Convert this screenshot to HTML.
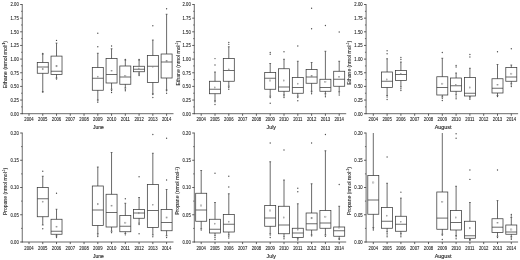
<!DOCTYPE html>
<html><head><meta charset="utf-8"><title>Ethane and propane box plots</title>
<style>
html,body{margin:0;padding:0;background:#fff;}
body{width:520px;height:260px;overflow:hidden;}
svg{display:block;font-family:"Liberation Sans",sans-serif;}
</style></head><body>
<svg width="520" height="260" viewBox="0 0 520 260">
<rect width="520" height="260" fill="#fff"/>
<g>
<line x1="22.25" y1="4.10" x2="22.25" y2="114.15" stroke="#3a3a3a" stroke-width="0.75"/>
<line x1="21.80" y1="113.70" x2="173.50" y2="113.70" stroke="#3a3a3a" stroke-width="0.75"/>
<line x1="20.15" y1="4.50" x2="22.25" y2="4.50" stroke="#3a3a3a" stroke-width="0.8"/>
<line x1="21.09" y1="11.32" x2="22.25" y2="11.32" stroke="#3a3a3a" stroke-width="0.7"/>
<line x1="20.15" y1="18.15" x2="22.25" y2="18.15" stroke="#3a3a3a" stroke-width="0.8"/>
<line x1="21.09" y1="24.97" x2="22.25" y2="24.97" stroke="#3a3a3a" stroke-width="0.7"/>
<line x1="20.15" y1="31.80" x2="22.25" y2="31.80" stroke="#3a3a3a" stroke-width="0.8"/>
<line x1="21.09" y1="38.62" x2="22.25" y2="38.62" stroke="#3a3a3a" stroke-width="0.7"/>
<line x1="20.15" y1="45.45" x2="22.25" y2="45.45" stroke="#3a3a3a" stroke-width="0.8"/>
<line x1="21.09" y1="52.28" x2="22.25" y2="52.28" stroke="#3a3a3a" stroke-width="0.7"/>
<line x1="20.15" y1="59.10" x2="22.25" y2="59.10" stroke="#3a3a3a" stroke-width="0.8"/>
<line x1="21.09" y1="65.92" x2="22.25" y2="65.92" stroke="#3a3a3a" stroke-width="0.7"/>
<line x1="20.15" y1="72.75" x2="22.25" y2="72.75" stroke="#3a3a3a" stroke-width="0.8"/>
<line x1="21.09" y1="79.58" x2="22.25" y2="79.58" stroke="#3a3a3a" stroke-width="0.7"/>
<line x1="20.15" y1="86.40" x2="22.25" y2="86.40" stroke="#3a3a3a" stroke-width="0.8"/>
<line x1="21.09" y1="93.23" x2="22.25" y2="93.23" stroke="#3a3a3a" stroke-width="0.7"/>
<line x1="20.15" y1="100.05" x2="22.25" y2="100.05" stroke="#3a3a3a" stroke-width="0.8"/>
<line x1="21.09" y1="106.88" x2="22.25" y2="106.88" stroke="#3a3a3a" stroke-width="0.7"/>
<line x1="20.15" y1="113.70" x2="22.25" y2="113.70" stroke="#3a3a3a" stroke-width="0.8"/>
<line x1="29.00" y1="113.70" x2="29.00" y2="115.80" stroke="#3a3a3a" stroke-width="0.8"/>
<line x1="42.76" y1="113.70" x2="42.76" y2="115.80" stroke="#3a3a3a" stroke-width="0.8"/>
<line x1="56.52" y1="113.70" x2="56.52" y2="115.80" stroke="#3a3a3a" stroke-width="0.8"/>
<line x1="70.28" y1="113.70" x2="70.28" y2="115.80" stroke="#3a3a3a" stroke-width="0.8"/>
<line x1="84.04" y1="113.70" x2="84.04" y2="115.80" stroke="#3a3a3a" stroke-width="0.8"/>
<line x1="97.80" y1="113.70" x2="97.80" y2="115.80" stroke="#3a3a3a" stroke-width="0.8"/>
<line x1="111.56" y1="113.70" x2="111.56" y2="115.80" stroke="#3a3a3a" stroke-width="0.8"/>
<line x1="125.32" y1="113.70" x2="125.32" y2="115.80" stroke="#3a3a3a" stroke-width="0.8"/>
<line x1="139.08" y1="113.70" x2="139.08" y2="115.80" stroke="#3a3a3a" stroke-width="0.8"/>
<line x1="152.84" y1="113.70" x2="152.84" y2="115.80" stroke="#3a3a3a" stroke-width="0.8"/>
<line x1="166.60" y1="113.70" x2="166.60" y2="115.80" stroke="#3a3a3a" stroke-width="0.8"/>
<rect x="37.26" y="62.50" width="11.00" height="10.75" fill="none" stroke="#3a3a3a" stroke-width="0.75"/>
<line x1="37.26" y1="67.00" x2="48.26" y2="67.00" stroke="#3a3a3a" stroke-width="0.75"/>
<line x1="42.76" y1="54.00" x2="42.76" y2="62.50" stroke="#3a3a3a" stroke-width="0.75"/>
<line x1="42.76" y1="73.25" x2="42.76" y2="91.80" stroke="#3a3a3a" stroke-width="0.75"/>
<line x1="41.86" y1="54.00" x2="43.66" y2="54.00" stroke="#3a3a3a" stroke-width="0.7"/>
<line x1="41.86" y1="91.80" x2="43.66" y2="91.80" stroke="#3a3a3a" stroke-width="0.7"/>
<rect x="42.16" y="68.65" width="1.2" height="1.2" fill="none" stroke="#888" stroke-width="0.4"/>
<circle cx="42.76" cy="53.50" r="0.65" fill="#4a4a4a"/>
<circle cx="42.76" cy="92.00" r="0.65" fill="#4a4a4a"/>
<rect x="51.02" y="56.10" width="11.00" height="18.40" fill="none" stroke="#3a3a3a" stroke-width="0.75"/>
<line x1="51.02" y1="71.25" x2="62.02" y2="71.25" stroke="#3a3a3a" stroke-width="0.75"/>
<line x1="56.52" y1="43.10" x2="56.52" y2="56.10" stroke="#3a3a3a" stroke-width="0.75"/>
<line x1="56.52" y1="74.50" x2="56.52" y2="78.00" stroke="#3a3a3a" stroke-width="0.75"/>
<line x1="55.62" y1="43.10" x2="57.42" y2="43.10" stroke="#3a3a3a" stroke-width="0.7"/>
<line x1="55.62" y1="78.00" x2="57.42" y2="78.00" stroke="#3a3a3a" stroke-width="0.7"/>
<rect x="55.92" y="65.65" width="1.2" height="1.2" fill="none" stroke="#888" stroke-width="0.4"/>
<circle cx="56.52" cy="40.40" r="0.65" fill="#4a4a4a"/>
<circle cx="56.52" cy="79.00" r="0.65" fill="#4a4a4a"/>
<rect x="92.30" y="67.50" width="11.00" height="22.75" fill="none" stroke="#3a3a3a" stroke-width="0.75"/>
<line x1="92.30" y1="78.25" x2="103.30" y2="78.25" stroke="#3a3a3a" stroke-width="0.75"/>
<line x1="97.80" y1="53.25" x2="97.80" y2="67.50" stroke="#3a3a3a" stroke-width="0.75"/>
<line x1="97.80" y1="90.25" x2="97.80" y2="100.00" stroke="#3a3a3a" stroke-width="0.75"/>
<line x1="96.90" y1="53.25" x2="98.70" y2="53.25" stroke="#3a3a3a" stroke-width="0.7"/>
<line x1="96.90" y1="100.00" x2="98.70" y2="100.00" stroke="#3a3a3a" stroke-width="0.7"/>
<rect x="97.20" y="76.15" width="1.2" height="1.2" fill="none" stroke="#888" stroke-width="0.4"/>
<circle cx="97.80" cy="46.75" r="0.65" fill="#4a4a4a"/>
<circle cx="97.80" cy="33.25" r="0.65" fill="#4a4a4a"/>
<circle cx="97.80" cy="100.90" r="0.65" fill="#4a4a4a"/>
<circle cx="97.80" cy="102.30" r="0.65" fill="#4a4a4a"/>
<rect x="106.06" y="58.50" width="11.00" height="24.50" fill="none" stroke="#3a3a3a" stroke-width="0.75"/>
<line x1="106.06" y1="74.50" x2="117.06" y2="74.50" stroke="#3a3a3a" stroke-width="0.75"/>
<line x1="111.56" y1="48.75" x2="111.56" y2="58.50" stroke="#3a3a3a" stroke-width="0.75"/>
<line x1="111.56" y1="83.00" x2="111.56" y2="89.25" stroke="#3a3a3a" stroke-width="0.75"/>
<line x1="110.66" y1="48.75" x2="112.46" y2="48.75" stroke="#3a3a3a" stroke-width="0.7"/>
<line x1="110.66" y1="89.25" x2="112.46" y2="89.25" stroke="#3a3a3a" stroke-width="0.7"/>
<rect x="110.96" y="70.40" width="1.2" height="1.2" fill="none" stroke="#888" stroke-width="0.4"/>
<circle cx="111.56" cy="46.00" r="0.65" fill="#4a4a4a"/>
<circle cx="111.56" cy="90.50" r="0.65" fill="#4a4a4a"/>
<circle cx="111.56" cy="92.50" r="0.65" fill="#4a4a4a"/>
<rect x="119.82" y="66.00" width="11.00" height="18.25" fill="none" stroke="#3a3a3a" stroke-width="0.75"/>
<line x1="119.82" y1="77.00" x2="130.82" y2="77.00" stroke="#3a3a3a" stroke-width="0.75"/>
<line x1="125.32" y1="60.00" x2="125.32" y2="66.00" stroke="#3a3a3a" stroke-width="0.75"/>
<line x1="125.32" y1="84.25" x2="125.32" y2="88.00" stroke="#3a3a3a" stroke-width="0.75"/>
<line x1="124.42" y1="60.00" x2="126.22" y2="60.00" stroke="#3a3a3a" stroke-width="0.7"/>
<line x1="124.42" y1="88.00" x2="126.22" y2="88.00" stroke="#3a3a3a" stroke-width="0.7"/>
<rect x="124.72" y="75.30" width="1.2" height="1.2" fill="none" stroke="#888" stroke-width="0.4"/>
<circle cx="125.32" cy="59.40" r="0.65" fill="#4a4a4a"/>
<circle cx="125.32" cy="89.25" r="0.65" fill="#4a4a4a"/>
<circle cx="125.32" cy="90.75" r="0.65" fill="#4a4a4a"/>
<rect x="133.58" y="66.25" width="11.00" height="5.50" fill="none" stroke="#3a3a3a" stroke-width="0.75"/>
<line x1="133.58" y1="69.25" x2="144.58" y2="69.25" stroke="#3a3a3a" stroke-width="0.75"/>
<line x1="139.08" y1="60.00" x2="139.08" y2="66.25" stroke="#3a3a3a" stroke-width="0.75"/>
<line x1="139.08" y1="71.75" x2="139.08" y2="73.25" stroke="#3a3a3a" stroke-width="0.75"/>
<line x1="138.18" y1="60.00" x2="139.98" y2="60.00" stroke="#3a3a3a" stroke-width="0.7"/>
<line x1="138.18" y1="73.25" x2="139.98" y2="73.25" stroke="#3a3a3a" stroke-width="0.7"/>
<rect x="138.48" y="68.00" width="1.2" height="1.2" fill="none" stroke="#888" stroke-width="0.4"/>
<circle cx="139.08" cy="59.40" r="0.65" fill="#4a4a4a"/>
<circle cx="139.08" cy="74.50" r="0.65" fill="#4a4a4a"/>
<circle cx="139.08" cy="75.50" r="0.65" fill="#4a4a4a"/>
<rect x="147.34" y="55.50" width="11.00" height="27.00" fill="none" stroke="#3a3a3a" stroke-width="0.75"/>
<line x1="147.34" y1="66.25" x2="158.34" y2="66.25" stroke="#3a3a3a" stroke-width="0.75"/>
<line x1="152.84" y1="40.00" x2="152.84" y2="55.50" stroke="#3a3a3a" stroke-width="0.75"/>
<line x1="152.84" y1="82.50" x2="152.84" y2="93.75" stroke="#3a3a3a" stroke-width="0.75"/>
<line x1="151.94" y1="40.00" x2="153.74" y2="40.00" stroke="#3a3a3a" stroke-width="0.7"/>
<line x1="151.94" y1="93.75" x2="153.74" y2="93.75" stroke="#3a3a3a" stroke-width="0.7"/>
<rect x="152.24" y="66.40" width="1.2" height="1.2" fill="none" stroke="#888" stroke-width="0.4"/>
<circle cx="152.84" cy="25.75" r="0.65" fill="#4a4a4a"/>
<circle cx="152.84" cy="94.50" r="0.65" fill="#4a4a4a"/>
<circle cx="152.84" cy="97.50" r="0.65" fill="#4a4a4a"/>
<rect x="161.10" y="54.00" width="11.00" height="24.00" fill="none" stroke="#3a3a3a" stroke-width="0.75"/>
<line x1="161.10" y1="62.00" x2="172.10" y2="62.00" stroke="#3a3a3a" stroke-width="0.75"/>
<line x1="166.60" y1="14.25" x2="166.60" y2="54.00" stroke="#3a3a3a" stroke-width="0.75"/>
<line x1="166.60" y1="78.00" x2="166.60" y2="90.00" stroke="#3a3a3a" stroke-width="0.75"/>
<line x1="165.70" y1="14.25" x2="167.50" y2="14.25" stroke="#3a3a3a" stroke-width="0.7"/>
<line x1="165.70" y1="90.00" x2="167.50" y2="90.00" stroke="#3a3a3a" stroke-width="0.7"/>
<rect x="166.00" y="60.65" width="1.2" height="1.2" fill="none" stroke="#888" stroke-width="0.4"/>
<circle cx="166.60" cy="8.75" r="0.65" fill="#4a4a4a"/>
<circle cx="166.60" cy="90.75" r="0.65" fill="#4a4a4a"/>
<circle cx="166.60" cy="93.25" r="0.65" fill="#4a4a4a"/>
<line x1="194.30" y1="4.10" x2="194.30" y2="114.15" stroke="#3a3a3a" stroke-width="0.75"/>
<line x1="193.85" y1="113.70" x2="346.20" y2="113.70" stroke="#3a3a3a" stroke-width="0.75"/>
<line x1="192.20" y1="4.50" x2="194.30" y2="4.50" stroke="#3a3a3a" stroke-width="0.8"/>
<line x1="193.15" y1="11.32" x2="194.30" y2="11.32" stroke="#3a3a3a" stroke-width="0.7"/>
<line x1="192.20" y1="18.15" x2="194.30" y2="18.15" stroke="#3a3a3a" stroke-width="0.8"/>
<line x1="193.15" y1="24.97" x2="194.30" y2="24.97" stroke="#3a3a3a" stroke-width="0.7"/>
<line x1="192.20" y1="31.80" x2="194.30" y2="31.80" stroke="#3a3a3a" stroke-width="0.8"/>
<line x1="193.15" y1="38.62" x2="194.30" y2="38.62" stroke="#3a3a3a" stroke-width="0.7"/>
<line x1="192.20" y1="45.45" x2="194.30" y2="45.45" stroke="#3a3a3a" stroke-width="0.8"/>
<line x1="193.15" y1="52.28" x2="194.30" y2="52.28" stroke="#3a3a3a" stroke-width="0.7"/>
<line x1="192.20" y1="59.10" x2="194.30" y2="59.10" stroke="#3a3a3a" stroke-width="0.8"/>
<line x1="193.15" y1="65.92" x2="194.30" y2="65.92" stroke="#3a3a3a" stroke-width="0.7"/>
<line x1="192.20" y1="72.75" x2="194.30" y2="72.75" stroke="#3a3a3a" stroke-width="0.8"/>
<line x1="193.15" y1="79.58" x2="194.30" y2="79.58" stroke="#3a3a3a" stroke-width="0.7"/>
<line x1="192.20" y1="86.40" x2="194.30" y2="86.40" stroke="#3a3a3a" stroke-width="0.8"/>
<line x1="193.15" y1="93.23" x2="194.30" y2="93.23" stroke="#3a3a3a" stroke-width="0.7"/>
<line x1="192.20" y1="100.05" x2="194.30" y2="100.05" stroke="#3a3a3a" stroke-width="0.8"/>
<line x1="193.15" y1="106.88" x2="194.30" y2="106.88" stroke="#3a3a3a" stroke-width="0.7"/>
<line x1="192.20" y1="113.70" x2="194.30" y2="113.70" stroke="#3a3a3a" stroke-width="0.8"/>
<line x1="201.20" y1="113.70" x2="201.20" y2="115.80" stroke="#3a3a3a" stroke-width="0.8"/>
<line x1="215.00" y1="113.70" x2="215.00" y2="115.80" stroke="#3a3a3a" stroke-width="0.8"/>
<line x1="228.80" y1="113.70" x2="228.80" y2="115.80" stroke="#3a3a3a" stroke-width="0.8"/>
<line x1="242.60" y1="113.70" x2="242.60" y2="115.80" stroke="#3a3a3a" stroke-width="0.8"/>
<line x1="256.40" y1="113.70" x2="256.40" y2="115.80" stroke="#3a3a3a" stroke-width="0.8"/>
<line x1="270.20" y1="113.70" x2="270.20" y2="115.80" stroke="#3a3a3a" stroke-width="0.8"/>
<line x1="284.00" y1="113.70" x2="284.00" y2="115.80" stroke="#3a3a3a" stroke-width="0.8"/>
<line x1="297.80" y1="113.70" x2="297.80" y2="115.80" stroke="#3a3a3a" stroke-width="0.8"/>
<line x1="311.60" y1="113.70" x2="311.60" y2="115.80" stroke="#3a3a3a" stroke-width="0.8"/>
<line x1="325.40" y1="113.70" x2="325.40" y2="115.80" stroke="#3a3a3a" stroke-width="0.8"/>
<line x1="339.20" y1="113.70" x2="339.20" y2="115.80" stroke="#3a3a3a" stroke-width="0.8"/>
<rect x="209.50" y="81.25" width="11.00" height="12.50" fill="none" stroke="#3a3a3a" stroke-width="0.75"/>
<line x1="209.50" y1="89.25" x2="220.50" y2="89.25" stroke="#3a3a3a" stroke-width="0.75"/>
<line x1="215.00" y1="72.00" x2="215.00" y2="81.25" stroke="#3a3a3a" stroke-width="0.75"/>
<line x1="215.00" y1="93.75" x2="215.00" y2="100.75" stroke="#3a3a3a" stroke-width="0.75"/>
<line x1="214.10" y1="72.00" x2="215.90" y2="72.00" stroke="#3a3a3a" stroke-width="0.7"/>
<line x1="214.10" y1="100.75" x2="215.90" y2="100.75" stroke="#3a3a3a" stroke-width="0.7"/>
<rect x="214.40" y="86.90" width="1.2" height="1.2" fill="none" stroke="#888" stroke-width="0.4"/>
<circle cx="215.00" cy="65.00" r="0.65" fill="#4a4a4a"/>
<circle cx="215.00" cy="58.60" r="0.65" fill="#4a4a4a"/>
<circle cx="215.00" cy="101.75" r="0.65" fill="#4a4a4a"/>
<circle cx="215.00" cy="104.50" r="0.65" fill="#4a4a4a"/>
<rect x="223.30" y="58.50" width="11.00" height="22.75" fill="none" stroke="#3a3a3a" stroke-width="0.75"/>
<line x1="223.30" y1="70.50" x2="234.30" y2="70.50" stroke="#3a3a3a" stroke-width="0.75"/>
<line x1="228.80" y1="46.75" x2="228.80" y2="58.50" stroke="#3a3a3a" stroke-width="0.75"/>
<line x1="228.80" y1="81.25" x2="228.80" y2="86.25" stroke="#3a3a3a" stroke-width="0.75"/>
<line x1="227.90" y1="46.75" x2="229.70" y2="46.75" stroke="#3a3a3a" stroke-width="0.7"/>
<line x1="227.90" y1="86.25" x2="229.70" y2="86.25" stroke="#3a3a3a" stroke-width="0.7"/>
<rect x="228.20" y="68.90" width="1.2" height="1.2" fill="none" stroke="#888" stroke-width="0.4"/>
<circle cx="228.80" cy="42.50" r="0.65" fill="#4a4a4a"/>
<circle cx="228.80" cy="44.30" r="0.65" fill="#4a4a4a"/>
<circle cx="228.80" cy="87.50" r="0.65" fill="#4a4a4a"/>
<circle cx="228.80" cy="89.25" r="0.65" fill="#4a4a4a"/>
<rect x="264.70" y="72.50" width="11.00" height="16.75" fill="none" stroke="#3a3a3a" stroke-width="0.75"/>
<line x1="264.70" y1="78.25" x2="275.70" y2="78.25" stroke="#3a3a3a" stroke-width="0.75"/>
<line x1="270.20" y1="63.50" x2="270.20" y2="72.50" stroke="#3a3a3a" stroke-width="0.75"/>
<line x1="270.20" y1="89.25" x2="270.20" y2="96.25" stroke="#3a3a3a" stroke-width="0.75"/>
<line x1="269.30" y1="63.50" x2="271.10" y2="63.50" stroke="#3a3a3a" stroke-width="0.7"/>
<line x1="269.30" y1="96.25" x2="271.10" y2="96.25" stroke="#3a3a3a" stroke-width="0.7"/>
<rect x="269.60" y="79.90" width="1.2" height="1.2" fill="none" stroke="#888" stroke-width="0.4"/>
<circle cx="270.20" cy="52.50" r="0.65" fill="#4a4a4a"/>
<circle cx="270.20" cy="54.25" r="0.65" fill="#4a4a4a"/>
<circle cx="270.20" cy="97.50" r="0.65" fill="#4a4a4a"/>
<circle cx="270.20" cy="103.25" r="0.65" fill="#4a4a4a"/>
<rect x="278.50" y="68.75" width="11.00" height="22.50" fill="none" stroke="#3a3a3a" stroke-width="0.75"/>
<line x1="278.50" y1="87.00" x2="289.50" y2="87.00" stroke="#3a3a3a" stroke-width="0.75"/>
<line x1="284.00" y1="59.25" x2="284.00" y2="68.75" stroke="#3a3a3a" stroke-width="0.75"/>
<line x1="284.00" y1="91.25" x2="284.00" y2="95.00" stroke="#3a3a3a" stroke-width="0.75"/>
<line x1="283.10" y1="59.25" x2="284.90" y2="59.25" stroke="#3a3a3a" stroke-width="0.7"/>
<line x1="283.10" y1="95.00" x2="284.90" y2="95.00" stroke="#3a3a3a" stroke-width="0.7"/>
<rect x="283.40" y="79.90" width="1.2" height="1.2" fill="none" stroke="#888" stroke-width="0.4"/>
<circle cx="284.00" cy="51.75" r="0.65" fill="#4a4a4a"/>
<circle cx="284.00" cy="96.00" r="0.65" fill="#4a4a4a"/>
<circle cx="284.00" cy="97.50" r="0.65" fill="#4a4a4a"/>
<rect x="292.30" y="77.50" width="11.00" height="15.75" fill="none" stroke="#3a3a3a" stroke-width="0.75"/>
<line x1="292.30" y1="87.50" x2="303.30" y2="87.50" stroke="#3a3a3a" stroke-width="0.75"/>
<line x1="297.80" y1="61.25" x2="297.80" y2="77.50" stroke="#3a3a3a" stroke-width="0.75"/>
<line x1="297.80" y1="93.25" x2="297.80" y2="96.25" stroke="#3a3a3a" stroke-width="0.75"/>
<line x1="296.90" y1="61.25" x2="298.70" y2="61.25" stroke="#3a3a3a" stroke-width="0.7"/>
<line x1="296.90" y1="96.25" x2="298.70" y2="96.25" stroke="#3a3a3a" stroke-width="0.7"/>
<rect x="297.20" y="83.15" width="1.2" height="1.2" fill="none" stroke="#888" stroke-width="0.4"/>
<circle cx="297.80" cy="46.00" r="0.65" fill="#4a4a4a"/>
<circle cx="297.80" cy="97.50" r="0.65" fill="#4a4a4a"/>
<circle cx="297.80" cy="100.75" r="0.65" fill="#4a4a4a"/>
<rect x="306.10" y="69.50" width="11.00" height="13.75" fill="none" stroke="#3a3a3a" stroke-width="0.75"/>
<line x1="306.10" y1="77.00" x2="317.10" y2="77.00" stroke="#3a3a3a" stroke-width="0.75"/>
<line x1="311.60" y1="62.50" x2="311.60" y2="69.50" stroke="#3a3a3a" stroke-width="0.75"/>
<line x1="311.60" y1="83.25" x2="311.60" y2="91.25" stroke="#3a3a3a" stroke-width="0.75"/>
<line x1="310.70" y1="62.50" x2="312.50" y2="62.50" stroke="#3a3a3a" stroke-width="0.7"/>
<line x1="310.70" y1="91.25" x2="312.50" y2="91.25" stroke="#3a3a3a" stroke-width="0.7"/>
<rect x="311.00" y="75.65" width="1.2" height="1.2" fill="none" stroke="#888" stroke-width="0.4"/>
<circle cx="311.60" cy="28.75" r="0.65" fill="#4a4a4a"/>
<circle cx="311.60" cy="8.25" r="0.65" fill="#4a4a4a"/>
<circle cx="311.60" cy="92.00" r="0.65" fill="#4a4a4a"/>
<circle cx="311.60" cy="93.75" r="0.65" fill="#4a4a4a"/>
<rect x="319.90" y="79.25" width="11.00" height="12.00" fill="none" stroke="#3a3a3a" stroke-width="0.75"/>
<line x1="319.90" y1="87.50" x2="330.90" y2="87.50" stroke="#3a3a3a" stroke-width="0.75"/>
<line x1="325.40" y1="51.25" x2="325.40" y2="79.25" stroke="#3a3a3a" stroke-width="0.75"/>
<line x1="325.40" y1="91.25" x2="325.40" y2="93.75" stroke="#3a3a3a" stroke-width="0.75"/>
<line x1="324.50" y1="51.25" x2="326.30" y2="51.25" stroke="#3a3a3a" stroke-width="0.7"/>
<line x1="324.50" y1="93.75" x2="326.30" y2="93.75" stroke="#3a3a3a" stroke-width="0.7"/>
<rect x="324.80" y="81.40" width="1.2" height="1.2" fill="none" stroke="#888" stroke-width="0.4"/>
<circle cx="325.40" cy="25.50" r="0.65" fill="#4a4a4a"/>
<circle cx="325.40" cy="95.00" r="0.65" fill="#4a4a4a"/>
<circle cx="325.40" cy="96.75" r="0.65" fill="#4a4a4a"/>
<rect x="333.70" y="71.25" width="11.00" height="15.00" fill="none" stroke="#3a3a3a" stroke-width="0.75"/>
<line x1="333.70" y1="79.25" x2="344.70" y2="79.25" stroke="#3a3a3a" stroke-width="0.75"/>
<line x1="339.20" y1="61.25" x2="339.20" y2="71.25" stroke="#3a3a3a" stroke-width="0.75"/>
<line x1="339.20" y1="86.25" x2="339.20" y2="91.75" stroke="#3a3a3a" stroke-width="0.75"/>
<line x1="338.30" y1="61.25" x2="340.10" y2="61.25" stroke="#3a3a3a" stroke-width="0.7"/>
<line x1="338.30" y1="91.75" x2="340.10" y2="91.75" stroke="#3a3a3a" stroke-width="0.7"/>
<rect x="338.60" y="76.40" width="1.2" height="1.2" fill="none" stroke="#888" stroke-width="0.4"/>
<circle cx="339.20" cy="32.00" r="0.65" fill="#4a4a4a"/>
<circle cx="339.20" cy="93.00" r="0.65" fill="#4a4a4a"/>
<circle cx="339.20" cy="95.00" r="0.65" fill="#4a4a4a"/>
<line x1="366.10" y1="4.10" x2="366.10" y2="114.15" stroke="#3a3a3a" stroke-width="0.75"/>
<line x1="365.65" y1="113.70" x2="518.10" y2="113.70" stroke="#3a3a3a" stroke-width="0.75"/>
<line x1="364.00" y1="4.50" x2="366.10" y2="4.50" stroke="#3a3a3a" stroke-width="0.8"/>
<line x1="364.95" y1="11.32" x2="366.10" y2="11.32" stroke="#3a3a3a" stroke-width="0.7"/>
<line x1="364.00" y1="18.15" x2="366.10" y2="18.15" stroke="#3a3a3a" stroke-width="0.8"/>
<line x1="364.95" y1="24.97" x2="366.10" y2="24.97" stroke="#3a3a3a" stroke-width="0.7"/>
<line x1="364.00" y1="31.80" x2="366.10" y2="31.80" stroke="#3a3a3a" stroke-width="0.8"/>
<line x1="364.95" y1="38.62" x2="366.10" y2="38.62" stroke="#3a3a3a" stroke-width="0.7"/>
<line x1="364.00" y1="45.45" x2="366.10" y2="45.45" stroke="#3a3a3a" stroke-width="0.8"/>
<line x1="364.95" y1="52.28" x2="366.10" y2="52.28" stroke="#3a3a3a" stroke-width="0.7"/>
<line x1="364.00" y1="59.10" x2="366.10" y2="59.10" stroke="#3a3a3a" stroke-width="0.8"/>
<line x1="364.95" y1="65.92" x2="366.10" y2="65.92" stroke="#3a3a3a" stroke-width="0.7"/>
<line x1="364.00" y1="72.75" x2="366.10" y2="72.75" stroke="#3a3a3a" stroke-width="0.8"/>
<line x1="364.95" y1="79.58" x2="366.10" y2="79.58" stroke="#3a3a3a" stroke-width="0.7"/>
<line x1="364.00" y1="86.40" x2="366.10" y2="86.40" stroke="#3a3a3a" stroke-width="0.8"/>
<line x1="364.95" y1="93.23" x2="366.10" y2="93.23" stroke="#3a3a3a" stroke-width="0.7"/>
<line x1="364.00" y1="100.05" x2="366.10" y2="100.05" stroke="#3a3a3a" stroke-width="0.8"/>
<line x1="364.95" y1="106.88" x2="366.10" y2="106.88" stroke="#3a3a3a" stroke-width="0.7"/>
<line x1="364.00" y1="113.70" x2="366.10" y2="113.70" stroke="#3a3a3a" stroke-width="0.8"/>
<line x1="373.30" y1="113.70" x2="373.30" y2="115.80" stroke="#3a3a3a" stroke-width="0.8"/>
<line x1="387.10" y1="113.70" x2="387.10" y2="115.80" stroke="#3a3a3a" stroke-width="0.8"/>
<line x1="400.90" y1="113.70" x2="400.90" y2="115.80" stroke="#3a3a3a" stroke-width="0.8"/>
<line x1="414.70" y1="113.70" x2="414.70" y2="115.80" stroke="#3a3a3a" stroke-width="0.8"/>
<line x1="428.50" y1="113.70" x2="428.50" y2="115.80" stroke="#3a3a3a" stroke-width="0.8"/>
<line x1="442.30" y1="113.70" x2="442.30" y2="115.80" stroke="#3a3a3a" stroke-width="0.8"/>
<line x1="456.10" y1="113.70" x2="456.10" y2="115.80" stroke="#3a3a3a" stroke-width="0.8"/>
<line x1="469.90" y1="113.70" x2="469.90" y2="115.80" stroke="#3a3a3a" stroke-width="0.8"/>
<line x1="483.70" y1="113.70" x2="483.70" y2="115.80" stroke="#3a3a3a" stroke-width="0.8"/>
<line x1="497.50" y1="113.70" x2="497.50" y2="115.80" stroke="#3a3a3a" stroke-width="0.8"/>
<line x1="511.30" y1="113.70" x2="511.30" y2="115.80" stroke="#3a3a3a" stroke-width="0.8"/>
<rect x="381.60" y="72.00" width="11.00" height="15.50" fill="none" stroke="#3a3a3a" stroke-width="0.75"/>
<line x1="381.60" y1="81.25" x2="392.60" y2="81.25" stroke="#3a3a3a" stroke-width="0.75"/>
<line x1="387.10" y1="58.75" x2="387.10" y2="72.00" stroke="#3a3a3a" stroke-width="0.75"/>
<line x1="387.10" y1="87.50" x2="387.10" y2="95.50" stroke="#3a3a3a" stroke-width="0.75"/>
<line x1="386.20" y1="58.75" x2="388.00" y2="58.75" stroke="#3a3a3a" stroke-width="0.7"/>
<line x1="386.20" y1="95.50" x2="388.00" y2="95.50" stroke="#3a3a3a" stroke-width="0.7"/>
<rect x="386.50" y="78.90" width="1.2" height="1.2" fill="none" stroke="#888" stroke-width="0.4"/>
<circle cx="387.10" cy="53.75" r="0.65" fill="#4a4a4a"/>
<circle cx="387.10" cy="50.75" r="0.65" fill="#4a4a4a"/>
<circle cx="387.10" cy="97.00" r="0.65" fill="#4a4a4a"/>
<circle cx="387.10" cy="99.50" r="0.65" fill="#4a4a4a"/>
<rect x="395.40" y="70.50" width="11.00" height="10.00" fill="none" stroke="#3a3a3a" stroke-width="0.75"/>
<line x1="395.40" y1="74.50" x2="406.40" y2="74.50" stroke="#3a3a3a" stroke-width="0.75"/>
<line x1="400.90" y1="62.00" x2="400.90" y2="70.50" stroke="#3a3a3a" stroke-width="0.75"/>
<line x1="400.90" y1="80.50" x2="400.90" y2="87.00" stroke="#3a3a3a" stroke-width="0.75"/>
<line x1="400.00" y1="62.00" x2="401.80" y2="62.00" stroke="#3a3a3a" stroke-width="0.7"/>
<line x1="400.00" y1="87.00" x2="401.80" y2="87.00" stroke="#3a3a3a" stroke-width="0.7"/>
<rect x="400.30" y="73.15" width="1.2" height="1.2" fill="none" stroke="#888" stroke-width="0.4"/>
<circle cx="400.90" cy="59.50" r="0.65" fill="#4a4a4a"/>
<circle cx="400.90" cy="57.50" r="0.65" fill="#4a4a4a"/>
<circle cx="400.90" cy="88.75" r="0.65" fill="#4a4a4a"/>
<circle cx="400.90" cy="90.50" r="0.65" fill="#4a4a4a"/>
<rect x="436.80" y="76.75" width="11.00" height="18.25" fill="none" stroke="#3a3a3a" stroke-width="0.75"/>
<line x1="436.80" y1="87.50" x2="447.80" y2="87.50" stroke="#3a3a3a" stroke-width="0.75"/>
<line x1="442.30" y1="58.25" x2="442.30" y2="76.75" stroke="#3a3a3a" stroke-width="0.75"/>
<line x1="442.30" y1="95.00" x2="442.30" y2="97.00" stroke="#3a3a3a" stroke-width="0.75"/>
<line x1="441.40" y1="58.25" x2="443.20" y2="58.25" stroke="#3a3a3a" stroke-width="0.7"/>
<line x1="441.40" y1="97.00" x2="443.20" y2="97.00" stroke="#3a3a3a" stroke-width="0.7"/>
<rect x="441.70" y="83.15" width="1.2" height="1.2" fill="none" stroke="#888" stroke-width="0.4"/>
<circle cx="442.30" cy="52.50" r="0.65" fill="#4a4a4a"/>
<circle cx="442.30" cy="98.25" r="0.65" fill="#4a4a4a"/>
<circle cx="442.30" cy="100.50" r="0.65" fill="#4a4a4a"/>
<rect x="450.60" y="78.00" width="11.00" height="13.25" fill="none" stroke="#3a3a3a" stroke-width="0.75"/>
<line x1="450.60" y1="85.75" x2="461.60" y2="85.75" stroke="#3a3a3a" stroke-width="0.75"/>
<line x1="456.10" y1="73.00" x2="456.10" y2="78.00" stroke="#3a3a3a" stroke-width="0.75"/>
<line x1="456.10" y1="91.25" x2="456.10" y2="95.00" stroke="#3a3a3a" stroke-width="0.75"/>
<line x1="455.20" y1="73.00" x2="457.00" y2="73.00" stroke="#3a3a3a" stroke-width="0.7"/>
<line x1="455.20" y1="95.00" x2="457.00" y2="95.00" stroke="#3a3a3a" stroke-width="0.7"/>
<rect x="455.50" y="84.40" width="1.2" height="1.2" fill="none" stroke="#888" stroke-width="0.4"/>
<circle cx="456.10" cy="67.00" r="0.65" fill="#4a4a4a"/>
<circle cx="456.10" cy="65.50" r="0.65" fill="#4a4a4a"/>
<circle cx="456.10" cy="97.00" r="0.65" fill="#4a4a4a"/>
<circle cx="456.10" cy="98.75" r="0.65" fill="#4a4a4a"/>
<rect x="464.40" y="77.50" width="11.00" height="18.50" fill="none" stroke="#3a3a3a" stroke-width="0.75"/>
<line x1="464.40" y1="93.25" x2="475.40" y2="93.25" stroke="#3a3a3a" stroke-width="0.75"/>
<line x1="469.90" y1="68.25" x2="469.90" y2="77.50" stroke="#3a3a3a" stroke-width="0.75"/>
<line x1="469.90" y1="96.00" x2="469.90" y2="97.00" stroke="#3a3a3a" stroke-width="0.75"/>
<line x1="469.00" y1="68.25" x2="470.80" y2="68.25" stroke="#3a3a3a" stroke-width="0.7"/>
<line x1="469.00" y1="97.00" x2="470.80" y2="97.00" stroke="#3a3a3a" stroke-width="0.7"/>
<rect x="469.30" y="86.90" width="1.2" height="1.2" fill="none" stroke="#888" stroke-width="0.4"/>
<circle cx="469.90" cy="57.00" r="0.65" fill="#4a4a4a"/>
<circle cx="469.90" cy="54.50" r="0.65" fill="#4a4a4a"/>
<circle cx="469.90" cy="98.00" r="0.65" fill="#4a4a4a"/>
<circle cx="469.90" cy="99.25" r="0.65" fill="#4a4a4a"/>
<rect x="492.00" y="78.75" width="11.00" height="14.25" fill="none" stroke="#3a3a3a" stroke-width="0.75"/>
<line x1="492.00" y1="88.25" x2="503.00" y2="88.25" stroke="#3a3a3a" stroke-width="0.75"/>
<line x1="497.50" y1="64.50" x2="497.50" y2="78.75" stroke="#3a3a3a" stroke-width="0.75"/>
<line x1="497.50" y1="93.00" x2="497.50" y2="95.50" stroke="#3a3a3a" stroke-width="0.75"/>
<line x1="496.60" y1="64.50" x2="498.40" y2="64.50" stroke="#3a3a3a" stroke-width="0.7"/>
<line x1="496.60" y1="95.50" x2="498.40" y2="95.50" stroke="#3a3a3a" stroke-width="0.7"/>
<rect x="496.90" y="84.40" width="1.2" height="1.2" fill="none" stroke="#888" stroke-width="0.4"/>
<circle cx="497.50" cy="51.75" r="0.65" fill="#4a4a4a"/>
<circle cx="497.50" cy="96.50" r="0.65" fill="#4a4a4a"/>
<rect x="505.80" y="67.50" width="11.00" height="13.75" fill="none" stroke="#3a3a3a" stroke-width="0.75"/>
<line x1="505.80" y1="77.00" x2="516.80" y2="77.00" stroke="#3a3a3a" stroke-width="0.75"/>
<line x1="511.30" y1="65.00" x2="511.30" y2="67.50" stroke="#3a3a3a" stroke-width="0.75"/>
<line x1="511.30" y1="81.25" x2="511.30" y2="83.75" stroke="#3a3a3a" stroke-width="0.75"/>
<line x1="510.40" y1="65.00" x2="512.20" y2="65.00" stroke="#3a3a3a" stroke-width="0.7"/>
<line x1="510.40" y1="83.75" x2="512.20" y2="83.75" stroke="#3a3a3a" stroke-width="0.7"/>
<rect x="510.70" y="73.15" width="1.2" height="1.2" fill="none" stroke="#888" stroke-width="0.4"/>
<circle cx="511.30" cy="48.75" r="0.65" fill="#4a4a4a"/>
<circle cx="511.30" cy="85.00" r="0.65" fill="#4a4a4a"/>
<circle cx="511.30" cy="86.50" r="0.65" fill="#4a4a4a"/>
<line x1="22.25" y1="132.60" x2="22.25" y2="242.45" stroke="#3a3a3a" stroke-width="0.75"/>
<line x1="21.80" y1="242.00" x2="173.50" y2="242.00" stroke="#3a3a3a" stroke-width="0.75"/>
<line x1="20.15" y1="133.00" x2="22.25" y2="133.00" stroke="#3a3a3a" stroke-width="0.8"/>
<line x1="21.09" y1="146.62" x2="22.25" y2="146.62" stroke="#3a3a3a" stroke-width="0.7"/>
<line x1="20.15" y1="160.25" x2="22.25" y2="160.25" stroke="#3a3a3a" stroke-width="0.8"/>
<line x1="21.09" y1="173.88" x2="22.25" y2="173.88" stroke="#3a3a3a" stroke-width="0.7"/>
<line x1="20.15" y1="187.50" x2="22.25" y2="187.50" stroke="#3a3a3a" stroke-width="0.8"/>
<line x1="21.09" y1="201.12" x2="22.25" y2="201.12" stroke="#3a3a3a" stroke-width="0.7"/>
<line x1="20.15" y1="214.75" x2="22.25" y2="214.75" stroke="#3a3a3a" stroke-width="0.8"/>
<line x1="21.09" y1="228.38" x2="22.25" y2="228.38" stroke="#3a3a3a" stroke-width="0.7"/>
<line x1="20.15" y1="242.00" x2="22.25" y2="242.00" stroke="#3a3a3a" stroke-width="0.8"/>
<line x1="29.00" y1="242.00" x2="29.00" y2="244.10" stroke="#3a3a3a" stroke-width="0.8"/>
<line x1="42.76" y1="242.00" x2="42.76" y2="244.10" stroke="#3a3a3a" stroke-width="0.8"/>
<line x1="56.52" y1="242.00" x2="56.52" y2="244.10" stroke="#3a3a3a" stroke-width="0.8"/>
<line x1="70.28" y1="242.00" x2="70.28" y2="244.10" stroke="#3a3a3a" stroke-width="0.8"/>
<line x1="84.04" y1="242.00" x2="84.04" y2="244.10" stroke="#3a3a3a" stroke-width="0.8"/>
<line x1="97.80" y1="242.00" x2="97.80" y2="244.10" stroke="#3a3a3a" stroke-width="0.8"/>
<line x1="111.56" y1="242.00" x2="111.56" y2="244.10" stroke="#3a3a3a" stroke-width="0.8"/>
<line x1="125.32" y1="242.00" x2="125.32" y2="244.10" stroke="#3a3a3a" stroke-width="0.8"/>
<line x1="139.08" y1="242.00" x2="139.08" y2="244.10" stroke="#3a3a3a" stroke-width="0.8"/>
<line x1="152.84" y1="242.00" x2="152.84" y2="244.10" stroke="#3a3a3a" stroke-width="0.8"/>
<line x1="166.60" y1="242.00" x2="166.60" y2="244.10" stroke="#3a3a3a" stroke-width="0.8"/>
<rect x="37.26" y="187.50" width="11.00" height="29.25" fill="none" stroke="#3a3a3a" stroke-width="0.75"/>
<line x1="37.26" y1="198.75" x2="48.26" y2="198.75" stroke="#3a3a3a" stroke-width="0.75"/>
<line x1="42.76" y1="176.25" x2="42.76" y2="187.50" stroke="#3a3a3a" stroke-width="0.75"/>
<line x1="42.76" y1="216.75" x2="42.76" y2="225.00" stroke="#3a3a3a" stroke-width="0.75"/>
<line x1="41.86" y1="176.25" x2="43.66" y2="176.25" stroke="#3a3a3a" stroke-width="0.7"/>
<line x1="41.86" y1="225.00" x2="43.66" y2="225.00" stroke="#3a3a3a" stroke-width="0.7"/>
<rect x="42.16" y="201.15" width="1.2" height="1.2" fill="none" stroke="#888" stroke-width="0.4"/>
<circle cx="42.76" cy="171.25" r="0.65" fill="#4a4a4a"/>
<circle cx="42.76" cy="228.75" r="0.65" fill="#4a4a4a"/>
<rect x="51.02" y="219.25" width="11.00" height="15.00" fill="none" stroke="#3a3a3a" stroke-width="0.75"/>
<line x1="51.02" y1="231.25" x2="62.02" y2="231.25" stroke="#3a3a3a" stroke-width="0.75"/>
<line x1="56.52" y1="209.25" x2="56.52" y2="219.25" stroke="#3a3a3a" stroke-width="0.75"/>
<line x1="56.52" y1="234.25" x2="56.52" y2="235.75" stroke="#3a3a3a" stroke-width="0.75"/>
<line x1="55.62" y1="209.25" x2="57.42" y2="209.25" stroke="#3a3a3a" stroke-width="0.7"/>
<line x1="55.62" y1="235.75" x2="57.42" y2="235.75" stroke="#3a3a3a" stroke-width="0.7"/>
<rect x="55.92" y="226.15" width="1.2" height="1.2" fill="none" stroke="#888" stroke-width="0.4"/>
<circle cx="56.52" cy="193.25" r="0.65" fill="#4a4a4a"/>
<circle cx="56.52" cy="236.75" r="0.65" fill="#4a4a4a"/>
<circle cx="56.52" cy="237.60" r="0.65" fill="#4a4a4a"/>
<rect x="92.30" y="186.00" width="11.00" height="39.50" fill="none" stroke="#3a3a3a" stroke-width="0.75"/>
<line x1="92.30" y1="210.00" x2="103.30" y2="210.00" stroke="#3a3a3a" stroke-width="0.75"/>
<line x1="97.80" y1="167.00" x2="97.80" y2="186.00" stroke="#3a3a3a" stroke-width="0.75"/>
<line x1="97.80" y1="225.50" x2="97.80" y2="233.75" stroke="#3a3a3a" stroke-width="0.75"/>
<line x1="96.90" y1="167.00" x2="98.70" y2="167.00" stroke="#3a3a3a" stroke-width="0.7"/>
<line x1="96.90" y1="233.75" x2="98.70" y2="233.75" stroke="#3a3a3a" stroke-width="0.7"/>
<rect x="97.20" y="203.65" width="1.2" height="1.2" fill="none" stroke="#888" stroke-width="0.4"/>
<circle cx="97.80" cy="235.00" r="0.65" fill="#4a4a4a"/>
<circle cx="97.80" cy="236.50" r="0.65" fill="#4a4a4a"/>
<rect x="106.06" y="194.25" width="11.00" height="32.75" fill="none" stroke="#3a3a3a" stroke-width="0.75"/>
<line x1="106.06" y1="212.50" x2="117.06" y2="212.50" stroke="#3a3a3a" stroke-width="0.75"/>
<line x1="111.56" y1="152.50" x2="111.56" y2="194.25" stroke="#3a3a3a" stroke-width="0.75"/>
<line x1="111.56" y1="227.00" x2="111.56" y2="231.25" stroke="#3a3a3a" stroke-width="0.75"/>
<line x1="110.66" y1="152.50" x2="112.46" y2="152.50" stroke="#3a3a3a" stroke-width="0.7"/>
<line x1="110.66" y1="231.25" x2="112.46" y2="231.25" stroke="#3a3a3a" stroke-width="0.7"/>
<rect x="110.96" y="205.15" width="1.2" height="1.2" fill="none" stroke="#888" stroke-width="0.4"/>
<circle cx="111.56" cy="232.70" r="0.65" fill="#4a4a4a"/>
<rect x="119.82" y="215.50" width="11.00" height="16.25" fill="none" stroke="#3a3a3a" stroke-width="0.75"/>
<line x1="119.82" y1="226.25" x2="130.82" y2="226.25" stroke="#3a3a3a" stroke-width="0.75"/>
<line x1="125.32" y1="203.25" x2="125.32" y2="215.50" stroke="#3a3a3a" stroke-width="0.75"/>
<line x1="125.32" y1="231.75" x2="125.32" y2="233.50" stroke="#3a3a3a" stroke-width="0.75"/>
<line x1="124.42" y1="203.25" x2="126.22" y2="203.25" stroke="#3a3a3a" stroke-width="0.7"/>
<line x1="124.42" y1="233.50" x2="126.22" y2="233.50" stroke="#3a3a3a" stroke-width="0.7"/>
<rect x="124.72" y="222.15" width="1.2" height="1.2" fill="none" stroke="#888" stroke-width="0.4"/>
<circle cx="125.32" cy="198.75" r="0.65" fill="#4a4a4a"/>
<circle cx="125.32" cy="234.80" r="0.65" fill="#4a4a4a"/>
<rect x="133.58" y="209.50" width="11.00" height="8.75" fill="none" stroke="#3a3a3a" stroke-width="0.75"/>
<line x1="133.58" y1="213.00" x2="144.58" y2="213.00" stroke="#3a3a3a" stroke-width="0.75"/>
<line x1="139.08" y1="197.50" x2="139.08" y2="209.50" stroke="#3a3a3a" stroke-width="0.75"/>
<line x1="139.08" y1="218.25" x2="139.08" y2="223.25" stroke="#3a3a3a" stroke-width="0.75"/>
<line x1="138.18" y1="197.50" x2="139.98" y2="197.50" stroke="#3a3a3a" stroke-width="0.7"/>
<line x1="138.18" y1="223.25" x2="139.98" y2="223.25" stroke="#3a3a3a" stroke-width="0.7"/>
<rect x="138.48" y="212.65" width="1.2" height="1.2" fill="none" stroke="#888" stroke-width="0.4"/>
<circle cx="139.08" cy="176.75" r="0.65" fill="#4a4a4a"/>
<circle cx="139.08" cy="224.50" r="0.65" fill="#4a4a4a"/>
<circle cx="139.08" cy="233.75" r="0.65" fill="#4a4a4a"/>
<rect x="147.34" y="184.50" width="11.00" height="43.00" fill="none" stroke="#3a3a3a" stroke-width="0.75"/>
<line x1="147.34" y1="210.50" x2="158.34" y2="210.50" stroke="#3a3a3a" stroke-width="0.75"/>
<line x1="152.84" y1="153.25" x2="152.84" y2="184.50" stroke="#3a3a3a" stroke-width="0.75"/>
<line x1="152.84" y1="227.50" x2="152.84" y2="235.00" stroke="#3a3a3a" stroke-width="0.75"/>
<line x1="151.94" y1="153.25" x2="153.74" y2="153.25" stroke="#3a3a3a" stroke-width="0.7"/>
<line x1="151.94" y1="235.00" x2="153.74" y2="235.00" stroke="#3a3a3a" stroke-width="0.7"/>
<rect x="152.24" y="204.40" width="1.2" height="1.2" fill="none" stroke="#888" stroke-width="0.4"/>
<circle cx="152.84" cy="134.50" r="0.65" fill="#4a4a4a"/>
<circle cx="152.84" cy="236.75" r="0.65" fill="#4a4a4a"/>
<rect x="161.10" y="209.50" width="11.00" height="21.25" fill="none" stroke="#3a3a3a" stroke-width="0.75"/>
<line x1="161.10" y1="222.50" x2="172.10" y2="222.50" stroke="#3a3a3a" stroke-width="0.75"/>
<line x1="166.60" y1="189.50" x2="166.60" y2="209.50" stroke="#3a3a3a" stroke-width="0.75"/>
<line x1="166.60" y1="230.75" x2="166.60" y2="235.75" stroke="#3a3a3a" stroke-width="0.75"/>
<line x1="165.70" y1="189.50" x2="167.50" y2="189.50" stroke="#3a3a3a" stroke-width="0.7"/>
<line x1="165.70" y1="235.75" x2="167.50" y2="235.75" stroke="#3a3a3a" stroke-width="0.7"/>
<rect x="166.00" y="216.90" width="1.2" height="1.2" fill="none" stroke="#888" stroke-width="0.4"/>
<circle cx="166.60" cy="180.00" r="0.65" fill="#4a4a4a"/>
<circle cx="166.60" cy="138.25" r="0.65" fill="#4a4a4a"/>
<circle cx="166.60" cy="237.50" r="0.65" fill="#4a4a4a"/>
<line x1="194.30" y1="132.60" x2="194.30" y2="242.45" stroke="#3a3a3a" stroke-width="0.75"/>
<line x1="193.85" y1="242.00" x2="346.20" y2="242.00" stroke="#3a3a3a" stroke-width="0.75"/>
<line x1="192.20" y1="133.00" x2="194.30" y2="133.00" stroke="#3a3a3a" stroke-width="0.8"/>
<line x1="193.15" y1="146.62" x2="194.30" y2="146.62" stroke="#3a3a3a" stroke-width="0.7"/>
<line x1="192.20" y1="160.25" x2="194.30" y2="160.25" stroke="#3a3a3a" stroke-width="0.8"/>
<line x1="193.15" y1="173.88" x2="194.30" y2="173.88" stroke="#3a3a3a" stroke-width="0.7"/>
<line x1="192.20" y1="187.50" x2="194.30" y2="187.50" stroke="#3a3a3a" stroke-width="0.8"/>
<line x1="193.15" y1="201.12" x2="194.30" y2="201.12" stroke="#3a3a3a" stroke-width="0.7"/>
<line x1="192.20" y1="214.75" x2="194.30" y2="214.75" stroke="#3a3a3a" stroke-width="0.8"/>
<line x1="193.15" y1="228.38" x2="194.30" y2="228.38" stroke="#3a3a3a" stroke-width="0.7"/>
<line x1="192.20" y1="242.00" x2="194.30" y2="242.00" stroke="#3a3a3a" stroke-width="0.8"/>
<line x1="201.20" y1="242.00" x2="201.20" y2="244.10" stroke="#3a3a3a" stroke-width="0.8"/>
<line x1="215.00" y1="242.00" x2="215.00" y2="244.10" stroke="#3a3a3a" stroke-width="0.8"/>
<line x1="228.80" y1="242.00" x2="228.80" y2="244.10" stroke="#3a3a3a" stroke-width="0.8"/>
<line x1="242.60" y1="242.00" x2="242.60" y2="244.10" stroke="#3a3a3a" stroke-width="0.8"/>
<line x1="256.40" y1="242.00" x2="256.40" y2="244.10" stroke="#3a3a3a" stroke-width="0.8"/>
<line x1="270.20" y1="242.00" x2="270.20" y2="244.10" stroke="#3a3a3a" stroke-width="0.8"/>
<line x1="284.00" y1="242.00" x2="284.00" y2="244.10" stroke="#3a3a3a" stroke-width="0.8"/>
<line x1="297.80" y1="242.00" x2="297.80" y2="244.10" stroke="#3a3a3a" stroke-width="0.8"/>
<line x1="311.60" y1="242.00" x2="311.60" y2="244.10" stroke="#3a3a3a" stroke-width="0.8"/>
<line x1="325.40" y1="242.00" x2="325.40" y2="244.10" stroke="#3a3a3a" stroke-width="0.8"/>
<line x1="339.20" y1="242.00" x2="339.20" y2="244.10" stroke="#3a3a3a" stroke-width="0.8"/>
<rect x="195.70" y="193.25" width="11.00" height="28.00" fill="none" stroke="#3a3a3a" stroke-width="0.75"/>
<line x1="195.70" y1="210.00" x2="206.70" y2="210.00" stroke="#3a3a3a" stroke-width="0.75"/>
<line x1="201.20" y1="170.50" x2="201.20" y2="193.25" stroke="#3a3a3a" stroke-width="0.75"/>
<line x1="201.20" y1="221.25" x2="201.20" y2="228.75" stroke="#3a3a3a" stroke-width="0.75"/>
<line x1="200.30" y1="170.50" x2="202.10" y2="170.50" stroke="#3a3a3a" stroke-width="0.7"/>
<line x1="200.30" y1="228.75" x2="202.10" y2="228.75" stroke="#3a3a3a" stroke-width="0.7"/>
<rect x="200.60" y="204.90" width="1.2" height="1.2" fill="none" stroke="#888" stroke-width="0.4"/>
<circle cx="201.20" cy="230.00" r="0.65" fill="#4a4a4a"/>
<rect x="209.50" y="219.25" width="11.00" height="13.75" fill="none" stroke="#3a3a3a" stroke-width="0.75"/>
<line x1="209.50" y1="229.25" x2="220.50" y2="229.25" stroke="#3a3a3a" stroke-width="0.75"/>
<line x1="215.00" y1="202.50" x2="215.00" y2="219.25" stroke="#3a3a3a" stroke-width="0.75"/>
<line x1="215.00" y1="233.00" x2="215.00" y2="235.75" stroke="#3a3a3a" stroke-width="0.75"/>
<line x1="214.10" y1="202.50" x2="215.90" y2="202.50" stroke="#3a3a3a" stroke-width="0.7"/>
<line x1="214.10" y1="235.75" x2="215.90" y2="235.75" stroke="#3a3a3a" stroke-width="0.7"/>
<rect x="214.40" y="223.15" width="1.2" height="1.2" fill="none" stroke="#888" stroke-width="0.4"/>
<circle cx="215.00" cy="173.25" r="0.65" fill="#4a4a4a"/>
<circle cx="215.00" cy="237.50" r="0.65" fill="#4a4a4a"/>
<circle cx="215.00" cy="239.50" r="0.65" fill="#4a4a4a"/>
<rect x="223.30" y="214.50" width="11.00" height="17.50" fill="none" stroke="#3a3a3a" stroke-width="0.75"/>
<line x1="223.30" y1="224.25" x2="234.30" y2="224.25" stroke="#3a3a3a" stroke-width="0.75"/>
<line x1="228.80" y1="193.75" x2="228.80" y2="214.50" stroke="#3a3a3a" stroke-width="0.75"/>
<line x1="228.80" y1="232.00" x2="228.80" y2="235.00" stroke="#3a3a3a" stroke-width="0.75"/>
<line x1="227.90" y1="193.75" x2="229.70" y2="193.75" stroke="#3a3a3a" stroke-width="0.7"/>
<line x1="227.90" y1="235.00" x2="229.70" y2="235.00" stroke="#3a3a3a" stroke-width="0.7"/>
<rect x="228.20" y="221.15" width="1.2" height="1.2" fill="none" stroke="#888" stroke-width="0.4"/>
<circle cx="228.80" cy="176.25" r="0.65" fill="#4a4a4a"/>
<circle cx="228.80" cy="187.00" r="0.65" fill="#4a4a4a"/>
<circle cx="228.80" cy="236.25" r="0.65" fill="#4a4a4a"/>
<circle cx="228.80" cy="238.00" r="0.65" fill="#4a4a4a"/>
<rect x="264.70" y="205.50" width="11.00" height="20.75" fill="none" stroke="#3a3a3a" stroke-width="0.75"/>
<line x1="264.70" y1="218.00" x2="275.70" y2="218.00" stroke="#3a3a3a" stroke-width="0.75"/>
<line x1="270.20" y1="161.75" x2="270.20" y2="205.50" stroke="#3a3a3a" stroke-width="0.75"/>
<line x1="270.20" y1="226.25" x2="270.20" y2="233.75" stroke="#3a3a3a" stroke-width="0.75"/>
<line x1="269.30" y1="161.75" x2="271.10" y2="161.75" stroke="#3a3a3a" stroke-width="0.7"/>
<line x1="269.30" y1="233.75" x2="271.10" y2="233.75" stroke="#3a3a3a" stroke-width="0.7"/>
<rect x="269.60" y="209.90" width="1.2" height="1.2" fill="none" stroke="#888" stroke-width="0.4"/>
<circle cx="270.20" cy="143.00" r="0.65" fill="#4a4a4a"/>
<circle cx="270.20" cy="235.00" r="0.65" fill="#4a4a4a"/>
<circle cx="270.20" cy="237.50" r="0.65" fill="#4a4a4a"/>
<rect x="278.50" y="206.25" width="11.00" height="27.50" fill="none" stroke="#3a3a3a" stroke-width="0.75"/>
<line x1="278.50" y1="225.00" x2="289.50" y2="225.00" stroke="#3a3a3a" stroke-width="0.75"/>
<line x1="284.00" y1="180.00" x2="284.00" y2="206.25" stroke="#3a3a3a" stroke-width="0.75"/>
<line x1="284.00" y1="233.75" x2="284.00" y2="237.00" stroke="#3a3a3a" stroke-width="0.75"/>
<line x1="283.10" y1="180.00" x2="284.90" y2="180.00" stroke="#3a3a3a" stroke-width="0.7"/>
<line x1="283.10" y1="237.00" x2="284.90" y2="237.00" stroke="#3a3a3a" stroke-width="0.7"/>
<rect x="283.40" y="216.90" width="1.2" height="1.2" fill="none" stroke="#888" stroke-width="0.4"/>
<circle cx="284.00" cy="150.00" r="0.65" fill="#4a4a4a"/>
<circle cx="284.00" cy="238.75" r="0.65" fill="#4a4a4a"/>
<rect x="292.30" y="228.25" width="11.00" height="9.25" fill="none" stroke="#3a3a3a" stroke-width="0.75"/>
<line x1="292.30" y1="233.00" x2="303.30" y2="233.00" stroke="#3a3a3a" stroke-width="0.75"/>
<line x1="297.80" y1="203.75" x2="297.80" y2="228.25" stroke="#3a3a3a" stroke-width="0.75"/>
<line x1="297.80" y1="237.50" x2="297.80" y2="238.75" stroke="#3a3a3a" stroke-width="0.75"/>
<line x1="296.90" y1="203.75" x2="298.70" y2="203.75" stroke="#3a3a3a" stroke-width="0.7"/>
<line x1="296.90" y1="238.75" x2="298.70" y2="238.75" stroke="#3a3a3a" stroke-width="0.7"/>
<rect x="297.20" y="229.40" width="1.2" height="1.2" fill="none" stroke="#888" stroke-width="0.4"/>
<circle cx="297.80" cy="188.25" r="0.65" fill="#4a4a4a"/>
<circle cx="297.80" cy="191.75" r="0.65" fill="#4a4a4a"/>
<circle cx="297.80" cy="240.00" r="0.65" fill="#4a4a4a"/>
<rect x="306.10" y="213.00" width="11.00" height="17.00" fill="none" stroke="#3a3a3a" stroke-width="0.75"/>
<line x1="306.10" y1="223.75" x2="317.10" y2="223.75" stroke="#3a3a3a" stroke-width="0.75"/>
<line x1="311.60" y1="183.75" x2="311.60" y2="213.00" stroke="#3a3a3a" stroke-width="0.75"/>
<line x1="311.60" y1="230.00" x2="311.60" y2="235.00" stroke="#3a3a3a" stroke-width="0.75"/>
<line x1="310.70" y1="183.75" x2="312.50" y2="183.75" stroke="#3a3a3a" stroke-width="0.7"/>
<line x1="310.70" y1="235.00" x2="312.50" y2="235.00" stroke="#3a3a3a" stroke-width="0.7"/>
<rect x="311.00" y="217.65" width="1.2" height="1.2" fill="none" stroke="#888" stroke-width="0.4"/>
<circle cx="311.60" cy="143.00" r="0.65" fill="#4a4a4a"/>
<circle cx="311.60" cy="235.90" r="0.65" fill="#4a4a4a"/>
<rect x="319.90" y="210.50" width="11.00" height="17.75" fill="none" stroke="#3a3a3a" stroke-width="0.75"/>
<line x1="319.90" y1="223.00" x2="330.90" y2="223.00" stroke="#3a3a3a" stroke-width="0.75"/>
<line x1="325.40" y1="150.75" x2="325.40" y2="210.50" stroke="#3a3a3a" stroke-width="0.75"/>
<line x1="325.40" y1="228.25" x2="325.40" y2="235.00" stroke="#3a3a3a" stroke-width="0.75"/>
<line x1="324.50" y1="150.75" x2="326.30" y2="150.75" stroke="#3a3a3a" stroke-width="0.7"/>
<line x1="324.50" y1="235.00" x2="326.30" y2="235.00" stroke="#3a3a3a" stroke-width="0.7"/>
<rect x="324.80" y="216.15" width="1.2" height="1.2" fill="none" stroke="#888" stroke-width="0.4"/>
<circle cx="325.40" cy="134.50" r="0.65" fill="#4a4a4a"/>
<circle cx="325.40" cy="236.25" r="0.65" fill="#4a4a4a"/>
<rect x="333.70" y="227.00" width="11.00" height="9.25" fill="none" stroke="#3a3a3a" stroke-width="0.75"/>
<line x1="333.70" y1="230.75" x2="344.70" y2="230.75" stroke="#3a3a3a" stroke-width="0.75"/>
<line x1="339.20" y1="206.25" x2="339.20" y2="227.00" stroke="#3a3a3a" stroke-width="0.75"/>
<line x1="339.20" y1="236.25" x2="339.20" y2="238.75" stroke="#3a3a3a" stroke-width="0.75"/>
<line x1="338.30" y1="206.25" x2="340.10" y2="206.25" stroke="#3a3a3a" stroke-width="0.7"/>
<line x1="338.30" y1="238.75" x2="340.10" y2="238.75" stroke="#3a3a3a" stroke-width="0.7"/>
<rect x="338.60" y="226.90" width="1.2" height="1.2" fill="none" stroke="#888" stroke-width="0.4"/>
<circle cx="339.20" cy="184.50" r="0.65" fill="#4a4a4a"/>
<circle cx="339.20" cy="239.50" r="0.65" fill="#4a4a4a"/>
<line x1="366.10" y1="132.60" x2="366.10" y2="242.45" stroke="#3a3a3a" stroke-width="0.75"/>
<line x1="365.65" y1="242.00" x2="518.10" y2="242.00" stroke="#3a3a3a" stroke-width="0.75"/>
<line x1="364.00" y1="133.00" x2="366.10" y2="133.00" stroke="#3a3a3a" stroke-width="0.8"/>
<line x1="364.95" y1="146.62" x2="366.10" y2="146.62" stroke="#3a3a3a" stroke-width="0.7"/>
<line x1="364.00" y1="160.25" x2="366.10" y2="160.25" stroke="#3a3a3a" stroke-width="0.8"/>
<line x1="364.95" y1="173.88" x2="366.10" y2="173.88" stroke="#3a3a3a" stroke-width="0.7"/>
<line x1="364.00" y1="187.50" x2="366.10" y2="187.50" stroke="#3a3a3a" stroke-width="0.8"/>
<line x1="364.95" y1="201.12" x2="366.10" y2="201.12" stroke="#3a3a3a" stroke-width="0.7"/>
<line x1="364.00" y1="214.75" x2="366.10" y2="214.75" stroke="#3a3a3a" stroke-width="0.8"/>
<line x1="364.95" y1="228.38" x2="366.10" y2="228.38" stroke="#3a3a3a" stroke-width="0.7"/>
<line x1="364.00" y1="242.00" x2="366.10" y2="242.00" stroke="#3a3a3a" stroke-width="0.8"/>
<line x1="373.30" y1="242.00" x2="373.30" y2="244.10" stroke="#3a3a3a" stroke-width="0.8"/>
<line x1="387.10" y1="242.00" x2="387.10" y2="244.10" stroke="#3a3a3a" stroke-width="0.8"/>
<line x1="400.90" y1="242.00" x2="400.90" y2="244.10" stroke="#3a3a3a" stroke-width="0.8"/>
<line x1="414.70" y1="242.00" x2="414.70" y2="244.10" stroke="#3a3a3a" stroke-width="0.8"/>
<line x1="428.50" y1="242.00" x2="428.50" y2="244.10" stroke="#3a3a3a" stroke-width="0.8"/>
<line x1="442.30" y1="242.00" x2="442.30" y2="244.10" stroke="#3a3a3a" stroke-width="0.8"/>
<line x1="456.10" y1="242.00" x2="456.10" y2="244.10" stroke="#3a3a3a" stroke-width="0.8"/>
<line x1="469.90" y1="242.00" x2="469.90" y2="244.10" stroke="#3a3a3a" stroke-width="0.8"/>
<line x1="483.70" y1="242.00" x2="483.70" y2="244.10" stroke="#3a3a3a" stroke-width="0.8"/>
<line x1="497.50" y1="242.00" x2="497.50" y2="244.10" stroke="#3a3a3a" stroke-width="0.8"/>
<line x1="511.30" y1="242.00" x2="511.30" y2="244.10" stroke="#3a3a3a" stroke-width="0.8"/>
<rect x="367.80" y="175.50" width="11.00" height="38.75" fill="none" stroke="#3a3a3a" stroke-width="0.75"/>
<line x1="367.80" y1="200.00" x2="378.80" y2="200.00" stroke="#3a3a3a" stroke-width="0.75"/>
<line x1="373.30" y1="133.00" x2="373.30" y2="175.50" stroke="#3a3a3a" stroke-width="0.75"/>
<line x1="373.30" y1="214.25" x2="373.30" y2="227.50" stroke="#3a3a3a" stroke-width="0.75"/>
<line x1="372.40" y1="227.50" x2="374.20" y2="227.50" stroke="#3a3a3a" stroke-width="0.7"/>
<rect x="372.70" y="181.90" width="1.2" height="1.2" fill="none" stroke="#888" stroke-width="0.4"/>
<circle cx="373.30" cy="228.75" r="0.65" fill="#4a4a4a"/>
<circle cx="373.30" cy="230.00" r="0.65" fill="#4a4a4a"/>
<rect x="381.60" y="207.50" width="11.00" height="20.75" fill="none" stroke="#3a3a3a" stroke-width="0.75"/>
<line x1="381.60" y1="221.25" x2="392.60" y2="221.25" stroke="#3a3a3a" stroke-width="0.75"/>
<line x1="387.10" y1="183.25" x2="387.10" y2="207.50" stroke="#3a3a3a" stroke-width="0.75"/>
<line x1="387.10" y1="228.25" x2="387.10" y2="231.75" stroke="#3a3a3a" stroke-width="0.75"/>
<line x1="386.20" y1="183.25" x2="388.00" y2="183.25" stroke="#3a3a3a" stroke-width="0.7"/>
<line x1="386.20" y1="231.75" x2="388.00" y2="231.75" stroke="#3a3a3a" stroke-width="0.7"/>
<rect x="386.50" y="215.15" width="1.2" height="1.2" fill="none" stroke="#888" stroke-width="0.4"/>
<circle cx="387.10" cy="157.00" r="0.65" fill="#4a4a4a"/>
<circle cx="387.10" cy="233.25" r="0.65" fill="#4a4a4a"/>
<circle cx="387.10" cy="235.00" r="0.65" fill="#4a4a4a"/>
<circle cx="387.10" cy="236.75" r="0.65" fill="#4a4a4a"/>
<rect x="395.40" y="216.25" width="11.00" height="15.00" fill="none" stroke="#3a3a3a" stroke-width="0.75"/>
<line x1="395.40" y1="224.25" x2="406.40" y2="224.25" stroke="#3a3a3a" stroke-width="0.75"/>
<line x1="400.90" y1="198.10" x2="400.90" y2="216.25" stroke="#3a3a3a" stroke-width="0.75"/>
<line x1="400.90" y1="231.25" x2="400.90" y2="233.75" stroke="#3a3a3a" stroke-width="0.75"/>
<line x1="400.00" y1="198.10" x2="401.80" y2="198.10" stroke="#3a3a3a" stroke-width="0.7"/>
<line x1="400.00" y1="233.75" x2="401.80" y2="233.75" stroke="#3a3a3a" stroke-width="0.7"/>
<rect x="400.30" y="221.40" width="1.2" height="1.2" fill="none" stroke="#888" stroke-width="0.4"/>
<circle cx="400.90" cy="192.20" r="0.65" fill="#4a4a4a"/>
<circle cx="400.90" cy="235.00" r="0.65" fill="#4a4a4a"/>
<circle cx="400.90" cy="236.75" r="0.65" fill="#4a4a4a"/>
<rect x="436.80" y="192.00" width="11.00" height="37.25" fill="none" stroke="#3a3a3a" stroke-width="0.75"/>
<line x1="436.80" y1="218.10" x2="447.80" y2="218.10" stroke="#3a3a3a" stroke-width="0.75"/>
<line x1="442.30" y1="133.00" x2="442.30" y2="192.00" stroke="#3a3a3a" stroke-width="0.75"/>
<line x1="442.30" y1="229.25" x2="442.30" y2="234.25" stroke="#3a3a3a" stroke-width="0.75"/>
<line x1="441.40" y1="234.25" x2="443.20" y2="234.25" stroke="#3a3a3a" stroke-width="0.7"/>
<rect x="441.70" y="201.30" width="1.2" height="1.2" fill="none" stroke="#888" stroke-width="0.4"/>
<circle cx="442.30" cy="235.20" r="0.65" fill="#4a4a4a"/>
<circle cx="442.30" cy="239.50" r="0.65" fill="#4a4a4a"/>
<rect x="450.60" y="210.60" width="11.00" height="19.40" fill="none" stroke="#3a3a3a" stroke-width="0.75"/>
<line x1="450.60" y1="222.50" x2="461.60" y2="222.50" stroke="#3a3a3a" stroke-width="0.75"/>
<line x1="456.10" y1="186.25" x2="456.10" y2="210.60" stroke="#3a3a3a" stroke-width="0.75"/>
<line x1="456.10" y1="230.00" x2="456.10" y2="235.50" stroke="#3a3a3a" stroke-width="0.75"/>
<line x1="455.20" y1="186.25" x2="457.00" y2="186.25" stroke="#3a3a3a" stroke-width="0.7"/>
<line x1="455.20" y1="235.50" x2="457.00" y2="235.50" stroke="#3a3a3a" stroke-width="0.7"/>
<rect x="455.50" y="216.90" width="1.2" height="1.2" fill="none" stroke="#888" stroke-width="0.4"/>
<circle cx="456.10" cy="138.25" r="0.65" fill="#4a4a4a"/>
<circle cx="456.10" cy="133.75" r="0.65" fill="#4a4a4a"/>
<circle cx="456.10" cy="236.75" r="0.65" fill="#4a4a4a"/>
<circle cx="456.10" cy="238.75" r="0.65" fill="#4a4a4a"/>
<rect x="464.40" y="221.25" width="11.00" height="17.00" fill="none" stroke="#3a3a3a" stroke-width="0.75"/>
<line x1="464.40" y1="235.75" x2="475.40" y2="235.75" stroke="#3a3a3a" stroke-width="0.75"/>
<line x1="469.90" y1="202.50" x2="469.90" y2="221.25" stroke="#3a3a3a" stroke-width="0.75"/>
<line x1="469.90" y1="238.25" x2="469.90" y2="239.50" stroke="#3a3a3a" stroke-width="0.75"/>
<line x1="469.00" y1="202.50" x2="470.80" y2="202.50" stroke="#3a3a3a" stroke-width="0.7"/>
<line x1="469.00" y1="239.50" x2="470.80" y2="239.50" stroke="#3a3a3a" stroke-width="0.7"/>
<rect x="469.30" y="227.65" width="1.2" height="1.2" fill="none" stroke="#888" stroke-width="0.4"/>
<circle cx="469.90" cy="179.40" r="0.65" fill="#4a4a4a"/>
<circle cx="469.90" cy="170.00" r="0.65" fill="#4a4a4a"/>
<circle cx="469.90" cy="240.50" r="0.65" fill="#4a4a4a"/>
<rect x="492.00" y="218.75" width="11.00" height="13.75" fill="none" stroke="#3a3a3a" stroke-width="0.75"/>
<line x1="492.00" y1="227.20" x2="503.00" y2="227.20" stroke="#3a3a3a" stroke-width="0.75"/>
<line x1="497.50" y1="200.60" x2="497.50" y2="218.75" stroke="#3a3a3a" stroke-width="0.75"/>
<line x1="497.50" y1="232.50" x2="497.50" y2="236.25" stroke="#3a3a3a" stroke-width="0.75"/>
<line x1="496.60" y1="200.60" x2="498.40" y2="200.60" stroke="#3a3a3a" stroke-width="0.7"/>
<line x1="496.60" y1="236.25" x2="498.40" y2="236.25" stroke="#3a3a3a" stroke-width="0.7"/>
<rect x="496.90" y="222.40" width="1.2" height="1.2" fill="none" stroke="#888" stroke-width="0.4"/>
<circle cx="497.50" cy="170.00" r="0.65" fill="#4a4a4a"/>
<circle cx="497.50" cy="237.50" r="0.65" fill="#4a4a4a"/>
<rect x="505.80" y="225.00" width="11.00" height="9.25" fill="none" stroke="#3a3a3a" stroke-width="0.75"/>
<line x1="505.80" y1="232.00" x2="516.80" y2="232.00" stroke="#3a3a3a" stroke-width="0.75"/>
<line x1="511.30" y1="217.50" x2="511.30" y2="225.00" stroke="#3a3a3a" stroke-width="0.75"/>
<line x1="511.30" y1="234.25" x2="511.30" y2="236.75" stroke="#3a3a3a" stroke-width="0.75"/>
<line x1="510.40" y1="217.50" x2="512.20" y2="217.50" stroke="#3a3a3a" stroke-width="0.7"/>
<line x1="510.40" y1="236.75" x2="512.20" y2="236.75" stroke="#3a3a3a" stroke-width="0.7"/>
<rect x="510.70" y="228.90" width="1.2" height="1.2" fill="none" stroke="#888" stroke-width="0.4"/>
<circle cx="511.30" cy="216.00" r="0.65" fill="#4a4a4a"/>
<circle cx="511.30" cy="214.50" r="0.65" fill="#4a4a4a"/>
<circle cx="511.30" cy="238.00" r="0.65" fill="#4a4a4a"/>
<circle cx="511.30" cy="239.25" r="0.65" fill="#4a4a4a"/>
</g>
<g>
<text transform="translate(18.75,6.40) scale(0.94,1)" font-size="4.5" text-anchor="end" fill="#2a2a2a" stroke="#2a2a2a" stroke-width="0.1">2.00</text>
<text transform="translate(18.75,20.05) scale(0.94,1)" font-size="4.5" text-anchor="end" fill="#2a2a2a" stroke="#2a2a2a" stroke-width="0.1">1.75</text>
<text transform="translate(18.75,33.70) scale(0.94,1)" font-size="4.5" text-anchor="end" fill="#2a2a2a" stroke="#2a2a2a" stroke-width="0.1">1.50</text>
<text transform="translate(18.75,47.35) scale(0.94,1)" font-size="4.5" text-anchor="end" fill="#2a2a2a" stroke="#2a2a2a" stroke-width="0.1">1.25</text>
<text transform="translate(18.75,61.00) scale(0.94,1)" font-size="4.5" text-anchor="end" fill="#2a2a2a" stroke="#2a2a2a" stroke-width="0.1">1.00</text>
<text transform="translate(18.75,74.65) scale(0.94,1)" font-size="4.5" text-anchor="end" fill="#2a2a2a" stroke="#2a2a2a" stroke-width="0.1">0.75</text>
<text transform="translate(18.75,88.30) scale(0.94,1)" font-size="4.5" text-anchor="end" fill="#2a2a2a" stroke="#2a2a2a" stroke-width="0.1">0.50</text>
<text transform="translate(18.75,101.95) scale(0.94,1)" font-size="4.5" text-anchor="end" fill="#2a2a2a" stroke="#2a2a2a" stroke-width="0.1">0.25</text>
<text transform="translate(18.75,115.60) scale(0.94,1)" font-size="4.5" text-anchor="end" fill="#2a2a2a" stroke="#2a2a2a" stroke-width="0.1">0.00</text>
<text transform="translate(29.00,121.40) scale(0.94,1)" font-size="4.5" text-anchor="middle" fill="#2a2a2a" stroke="#2a2a2a" stroke-width="0.1">2004</text>
<text transform="translate(42.76,121.40) scale(0.94,1)" font-size="4.5" text-anchor="middle" fill="#2a2a2a" stroke="#2a2a2a" stroke-width="0.1">2005</text>
<text transform="translate(56.52,121.40) scale(0.94,1)" font-size="4.5" text-anchor="middle" fill="#2a2a2a" stroke="#2a2a2a" stroke-width="0.1">2006</text>
<text transform="translate(70.28,121.40) scale(0.94,1)" font-size="4.5" text-anchor="middle" fill="#2a2a2a" stroke="#2a2a2a" stroke-width="0.1">2007</text>
<text transform="translate(84.04,121.40) scale(0.94,1)" font-size="4.5" text-anchor="middle" fill="#2a2a2a" stroke="#2a2a2a" stroke-width="0.1">2008</text>
<text transform="translate(97.80,121.40) scale(0.94,1)" font-size="4.5" text-anchor="middle" fill="#2a2a2a" stroke="#2a2a2a" stroke-width="0.1">2009</text>
<text transform="translate(111.56,121.40) scale(0.94,1)" font-size="4.5" text-anchor="middle" fill="#2a2a2a" stroke="#2a2a2a" stroke-width="0.1">2010</text>
<text transform="translate(125.32,121.40) scale(0.94,1)" font-size="4.5" text-anchor="middle" fill="#2a2a2a" stroke="#2a2a2a" stroke-width="0.1">2011</text>
<text transform="translate(139.08,121.40) scale(0.94,1)" font-size="4.5" text-anchor="middle" fill="#2a2a2a" stroke="#2a2a2a" stroke-width="0.1">2012</text>
<text transform="translate(152.84,121.40) scale(0.94,1)" font-size="4.5" text-anchor="middle" fill="#2a2a2a" stroke="#2a2a2a" stroke-width="0.1">2013</text>
<text transform="translate(166.60,121.40) scale(0.94,1)" font-size="4.5" text-anchor="middle" fill="#2a2a2a" stroke="#2a2a2a" stroke-width="0.1">2014</text>
<text transform="translate(98.40,129.10) scale(0.93,1)" font-size="5.4" text-anchor="middle" fill="#2a2a2a" stroke="#2a2a2a" stroke-width="0.14">June</text>
<text transform="translate(7.10,88.40) rotate(-90)" font-size="5.0" textLength="47.60" lengthAdjust="spacingAndGlyphs" fill="#2a2a2a" stroke="#2a2a2a" stroke-width="0.1">Ethane (nmol mol<tspan font-size="3.10" dy="-1.80">-1</tspan><tspan dy="1.80">)</tspan></text>
<text transform="translate(190.80,6.40) scale(0.94,1)" font-size="4.5" text-anchor="end" fill="#2a2a2a" stroke="#2a2a2a" stroke-width="0.1">2.00</text>
<text transform="translate(190.80,20.05) scale(0.94,1)" font-size="4.5" text-anchor="end" fill="#2a2a2a" stroke="#2a2a2a" stroke-width="0.1">1.75</text>
<text transform="translate(190.80,33.70) scale(0.94,1)" font-size="4.5" text-anchor="end" fill="#2a2a2a" stroke="#2a2a2a" stroke-width="0.1">1.50</text>
<text transform="translate(190.80,47.35) scale(0.94,1)" font-size="4.5" text-anchor="end" fill="#2a2a2a" stroke="#2a2a2a" stroke-width="0.1">1.25</text>
<text transform="translate(190.80,61.00) scale(0.94,1)" font-size="4.5" text-anchor="end" fill="#2a2a2a" stroke="#2a2a2a" stroke-width="0.1">1.00</text>
<text transform="translate(190.80,74.65) scale(0.94,1)" font-size="4.5" text-anchor="end" fill="#2a2a2a" stroke="#2a2a2a" stroke-width="0.1">0.75</text>
<text transform="translate(190.80,88.30) scale(0.94,1)" font-size="4.5" text-anchor="end" fill="#2a2a2a" stroke="#2a2a2a" stroke-width="0.1">0.50</text>
<text transform="translate(190.80,101.95) scale(0.94,1)" font-size="4.5" text-anchor="end" fill="#2a2a2a" stroke="#2a2a2a" stroke-width="0.1">0.25</text>
<text transform="translate(190.80,115.60) scale(0.94,1)" font-size="4.5" text-anchor="end" fill="#2a2a2a" stroke="#2a2a2a" stroke-width="0.1">0.00</text>
<text transform="translate(201.20,121.40) scale(0.94,1)" font-size="4.5" text-anchor="middle" fill="#2a2a2a" stroke="#2a2a2a" stroke-width="0.1">2004</text>
<text transform="translate(215.00,121.40) scale(0.94,1)" font-size="4.5" text-anchor="middle" fill="#2a2a2a" stroke="#2a2a2a" stroke-width="0.1">2005</text>
<text transform="translate(228.80,121.40) scale(0.94,1)" font-size="4.5" text-anchor="middle" fill="#2a2a2a" stroke="#2a2a2a" stroke-width="0.1">2006</text>
<text transform="translate(242.60,121.40) scale(0.94,1)" font-size="4.5" text-anchor="middle" fill="#2a2a2a" stroke="#2a2a2a" stroke-width="0.1">2007</text>
<text transform="translate(256.40,121.40) scale(0.94,1)" font-size="4.5" text-anchor="middle" fill="#2a2a2a" stroke="#2a2a2a" stroke-width="0.1">2008</text>
<text transform="translate(270.20,121.40) scale(0.94,1)" font-size="4.5" text-anchor="middle" fill="#2a2a2a" stroke="#2a2a2a" stroke-width="0.1">2009</text>
<text transform="translate(284.00,121.40) scale(0.94,1)" font-size="4.5" text-anchor="middle" fill="#2a2a2a" stroke="#2a2a2a" stroke-width="0.1">2010</text>
<text transform="translate(297.80,121.40) scale(0.94,1)" font-size="4.5" text-anchor="middle" fill="#2a2a2a" stroke="#2a2a2a" stroke-width="0.1">2011</text>
<text transform="translate(311.60,121.40) scale(0.94,1)" font-size="4.5" text-anchor="middle" fill="#2a2a2a" stroke="#2a2a2a" stroke-width="0.1">2012</text>
<text transform="translate(325.40,121.40) scale(0.94,1)" font-size="4.5" text-anchor="middle" fill="#2a2a2a" stroke="#2a2a2a" stroke-width="0.1">2013</text>
<text transform="translate(339.20,121.40) scale(0.94,1)" font-size="4.5" text-anchor="middle" fill="#2a2a2a" stroke="#2a2a2a" stroke-width="0.1">2014</text>
<text transform="translate(271.25,129.10) scale(0.97,1)" font-size="5.4" text-anchor="middle" fill="#2a2a2a" stroke="#2a2a2a" stroke-width="0.14">July</text>
<text transform="translate(179.60,85.40) rotate(-90)" font-size="5.0" textLength="44.60" lengthAdjust="spacingAndGlyphs" fill="#2a2a2a" stroke="#2a2a2a" stroke-width="0.1">Ethane (nmol mol<tspan font-size="3.10" dy="-1.80">-1</tspan><tspan dy="1.80">)</tspan></text>
<text transform="translate(362.60,6.40) scale(0.94,1)" font-size="4.5" text-anchor="end" fill="#2a2a2a" stroke="#2a2a2a" stroke-width="0.1">2.00</text>
<text transform="translate(362.60,20.05) scale(0.94,1)" font-size="4.5" text-anchor="end" fill="#2a2a2a" stroke="#2a2a2a" stroke-width="0.1">1.75</text>
<text transform="translate(362.60,33.70) scale(0.94,1)" font-size="4.5" text-anchor="end" fill="#2a2a2a" stroke="#2a2a2a" stroke-width="0.1">1.50</text>
<text transform="translate(362.60,47.35) scale(0.94,1)" font-size="4.5" text-anchor="end" fill="#2a2a2a" stroke="#2a2a2a" stroke-width="0.1">1.25</text>
<text transform="translate(362.60,61.00) scale(0.94,1)" font-size="4.5" text-anchor="end" fill="#2a2a2a" stroke="#2a2a2a" stroke-width="0.1">1.00</text>
<text transform="translate(362.60,74.65) scale(0.94,1)" font-size="4.5" text-anchor="end" fill="#2a2a2a" stroke="#2a2a2a" stroke-width="0.1">0.75</text>
<text transform="translate(362.60,88.30) scale(0.94,1)" font-size="4.5" text-anchor="end" fill="#2a2a2a" stroke="#2a2a2a" stroke-width="0.1">0.50</text>
<text transform="translate(362.60,101.95) scale(0.94,1)" font-size="4.5" text-anchor="end" fill="#2a2a2a" stroke="#2a2a2a" stroke-width="0.1">0.25</text>
<text transform="translate(362.60,115.60) scale(0.94,1)" font-size="4.5" text-anchor="end" fill="#2a2a2a" stroke="#2a2a2a" stroke-width="0.1">0.00</text>
<text transform="translate(373.30,121.40) scale(0.94,1)" font-size="4.5" text-anchor="middle" fill="#2a2a2a" stroke="#2a2a2a" stroke-width="0.1">2004</text>
<text transform="translate(387.10,121.40) scale(0.94,1)" font-size="4.5" text-anchor="middle" fill="#2a2a2a" stroke="#2a2a2a" stroke-width="0.1">2005</text>
<text transform="translate(400.90,121.40) scale(0.94,1)" font-size="4.5" text-anchor="middle" fill="#2a2a2a" stroke="#2a2a2a" stroke-width="0.1">2006</text>
<text transform="translate(414.70,121.40) scale(0.94,1)" font-size="4.5" text-anchor="middle" fill="#2a2a2a" stroke="#2a2a2a" stroke-width="0.1">2007</text>
<text transform="translate(428.50,121.40) scale(0.94,1)" font-size="4.5" text-anchor="middle" fill="#2a2a2a" stroke="#2a2a2a" stroke-width="0.1">2008</text>
<text transform="translate(442.30,121.40) scale(0.94,1)" font-size="4.5" text-anchor="middle" fill="#2a2a2a" stroke="#2a2a2a" stroke-width="0.1">2009</text>
<text transform="translate(456.10,121.40) scale(0.94,1)" font-size="4.5" text-anchor="middle" fill="#2a2a2a" stroke="#2a2a2a" stroke-width="0.1">2010</text>
<text transform="translate(469.90,121.40) scale(0.94,1)" font-size="4.5" text-anchor="middle" fill="#2a2a2a" stroke="#2a2a2a" stroke-width="0.1">2011</text>
<text transform="translate(483.70,121.40) scale(0.94,1)" font-size="4.5" text-anchor="middle" fill="#2a2a2a" stroke="#2a2a2a" stroke-width="0.1">2012</text>
<text transform="translate(497.50,121.40) scale(0.94,1)" font-size="4.5" text-anchor="middle" fill="#2a2a2a" stroke="#2a2a2a" stroke-width="0.1">2013</text>
<text transform="translate(511.30,121.40) scale(0.94,1)" font-size="4.5" text-anchor="middle" fill="#2a2a2a" stroke="#2a2a2a" stroke-width="0.1">2014</text>
<text transform="translate(443.10,129.10) scale(1.0,1)" font-size="5.4" text-anchor="middle" fill="#2a2a2a" stroke="#2a2a2a" stroke-width="0.14">August</text>
<text transform="translate(351.10,84.80) rotate(-90)" font-size="5.0" textLength="44.00" lengthAdjust="spacingAndGlyphs" fill="#2a2a2a" stroke="#2a2a2a" stroke-width="0.1">Ethane (nmol mol<tspan font-size="3.10" dy="-1.80">-1</tspan><tspan dy="1.80">)</tspan></text>
<text transform="translate(18.75,134.90) scale(0.94,1)" font-size="4.5" text-anchor="end" fill="#2a2a2a" stroke="#2a2a2a" stroke-width="0.1">0.20</text>
<text transform="translate(18.75,162.15) scale(0.94,1)" font-size="4.5" text-anchor="end" fill="#2a2a2a" stroke="#2a2a2a" stroke-width="0.1">0.15</text>
<text transform="translate(18.75,189.40) scale(0.94,1)" font-size="4.5" text-anchor="end" fill="#2a2a2a" stroke="#2a2a2a" stroke-width="0.1">0.10</text>
<text transform="translate(18.75,216.65) scale(0.94,1)" font-size="4.5" text-anchor="end" fill="#2a2a2a" stroke="#2a2a2a" stroke-width="0.1">0.05</text>
<text transform="translate(18.75,243.90) scale(0.94,1)" font-size="4.5" text-anchor="end" fill="#2a2a2a" stroke="#2a2a2a" stroke-width="0.1">0.00</text>
<text transform="translate(29.00,250.10) scale(0.94,1)" font-size="4.5" text-anchor="middle" fill="#2a2a2a" stroke="#2a2a2a" stroke-width="0.1">2004</text>
<text transform="translate(42.76,250.10) scale(0.94,1)" font-size="4.5" text-anchor="middle" fill="#2a2a2a" stroke="#2a2a2a" stroke-width="0.1">2005</text>
<text transform="translate(56.52,250.10) scale(0.94,1)" font-size="4.5" text-anchor="middle" fill="#2a2a2a" stroke="#2a2a2a" stroke-width="0.1">2006</text>
<text transform="translate(70.28,250.10) scale(0.94,1)" font-size="4.5" text-anchor="middle" fill="#2a2a2a" stroke="#2a2a2a" stroke-width="0.1">2007</text>
<text transform="translate(84.04,250.10) scale(0.94,1)" font-size="4.5" text-anchor="middle" fill="#2a2a2a" stroke="#2a2a2a" stroke-width="0.1">2008</text>
<text transform="translate(97.80,250.10) scale(0.94,1)" font-size="4.5" text-anchor="middle" fill="#2a2a2a" stroke="#2a2a2a" stroke-width="0.1">2009</text>
<text transform="translate(111.56,250.10) scale(0.94,1)" font-size="4.5" text-anchor="middle" fill="#2a2a2a" stroke="#2a2a2a" stroke-width="0.1">2010</text>
<text transform="translate(125.32,250.10) scale(0.94,1)" font-size="4.5" text-anchor="middle" fill="#2a2a2a" stroke="#2a2a2a" stroke-width="0.1">2011</text>
<text transform="translate(139.08,250.10) scale(0.94,1)" font-size="4.5" text-anchor="middle" fill="#2a2a2a" stroke="#2a2a2a" stroke-width="0.1">2012</text>
<text transform="translate(152.84,250.10) scale(0.94,1)" font-size="4.5" text-anchor="middle" fill="#2a2a2a" stroke="#2a2a2a" stroke-width="0.1">2013</text>
<text transform="translate(166.60,250.10) scale(0.94,1)" font-size="4.5" text-anchor="middle" fill="#2a2a2a" stroke="#2a2a2a" stroke-width="0.1">2014</text>
<text transform="translate(98.40,257.50) scale(0.93,1)" font-size="5.4" text-anchor="middle" fill="#2a2a2a" stroke="#2a2a2a" stroke-width="0.14">June</text>
<text transform="translate(6.90,215.05) rotate(-90)" font-size="5.0" textLength="47.35" lengthAdjust="spacingAndGlyphs" fill="#2a2a2a" stroke="#2a2a2a" stroke-width="0.1">Propane (nmol mol<tspan font-size="3.10" dy="-1.80">-1</tspan><tspan dy="1.80">)</tspan></text>
<text transform="translate(190.80,134.90) scale(0.94,1)" font-size="4.5" text-anchor="end" fill="#2a2a2a" stroke="#2a2a2a" stroke-width="0.1">0.20</text>
<text transform="translate(190.80,162.15) scale(0.94,1)" font-size="4.5" text-anchor="end" fill="#2a2a2a" stroke="#2a2a2a" stroke-width="0.1">0.15</text>
<text transform="translate(190.80,189.40) scale(0.94,1)" font-size="4.5" text-anchor="end" fill="#2a2a2a" stroke="#2a2a2a" stroke-width="0.1">0.10</text>
<text transform="translate(190.80,216.65) scale(0.94,1)" font-size="4.5" text-anchor="end" fill="#2a2a2a" stroke="#2a2a2a" stroke-width="0.1">0.05</text>
<text transform="translate(190.80,243.90) scale(0.94,1)" font-size="4.5" text-anchor="end" fill="#2a2a2a" stroke="#2a2a2a" stroke-width="0.1">0.00</text>
<text transform="translate(201.20,250.10) scale(0.94,1)" font-size="4.5" text-anchor="middle" fill="#2a2a2a" stroke="#2a2a2a" stroke-width="0.1">2004</text>
<text transform="translate(215.00,250.10) scale(0.94,1)" font-size="4.5" text-anchor="middle" fill="#2a2a2a" stroke="#2a2a2a" stroke-width="0.1">2005</text>
<text transform="translate(228.80,250.10) scale(0.94,1)" font-size="4.5" text-anchor="middle" fill="#2a2a2a" stroke="#2a2a2a" stroke-width="0.1">2006</text>
<text transform="translate(242.60,250.10) scale(0.94,1)" font-size="4.5" text-anchor="middle" fill="#2a2a2a" stroke="#2a2a2a" stroke-width="0.1">2007</text>
<text transform="translate(256.40,250.10) scale(0.94,1)" font-size="4.5" text-anchor="middle" fill="#2a2a2a" stroke="#2a2a2a" stroke-width="0.1">2008</text>
<text transform="translate(270.20,250.10) scale(0.94,1)" font-size="4.5" text-anchor="middle" fill="#2a2a2a" stroke="#2a2a2a" stroke-width="0.1">2009</text>
<text transform="translate(284.00,250.10) scale(0.94,1)" font-size="4.5" text-anchor="middle" fill="#2a2a2a" stroke="#2a2a2a" stroke-width="0.1">2010</text>
<text transform="translate(297.80,250.10) scale(0.94,1)" font-size="4.5" text-anchor="middle" fill="#2a2a2a" stroke="#2a2a2a" stroke-width="0.1">2011</text>
<text transform="translate(311.60,250.10) scale(0.94,1)" font-size="4.5" text-anchor="middle" fill="#2a2a2a" stroke="#2a2a2a" stroke-width="0.1">2012</text>
<text transform="translate(325.40,250.10) scale(0.94,1)" font-size="4.5" text-anchor="middle" fill="#2a2a2a" stroke="#2a2a2a" stroke-width="0.1">2013</text>
<text transform="translate(339.20,250.10) scale(0.94,1)" font-size="4.5" text-anchor="middle" fill="#2a2a2a" stroke="#2a2a2a" stroke-width="0.1">2014</text>
<text transform="translate(271.25,257.50) scale(0.97,1)" font-size="5.4" text-anchor="middle" fill="#2a2a2a" stroke="#2a2a2a" stroke-width="0.14">July</text>
<text transform="translate(179.40,214.80) rotate(-90)" font-size="5.0" textLength="47.70" lengthAdjust="spacingAndGlyphs" fill="#2a2a2a" stroke="#2a2a2a" stroke-width="0.1">Propane (nmol mol<tspan font-size="3.10" dy="-1.80">-1</tspan><tspan dy="1.80">)</tspan></text>
<text transform="translate(362.60,134.90) scale(0.94,1)" font-size="4.5" text-anchor="end" fill="#2a2a2a" stroke="#2a2a2a" stroke-width="0.1">0.20</text>
<text transform="translate(362.60,162.15) scale(0.94,1)" font-size="4.5" text-anchor="end" fill="#2a2a2a" stroke="#2a2a2a" stroke-width="0.1">0.15</text>
<text transform="translate(362.60,189.40) scale(0.94,1)" font-size="4.5" text-anchor="end" fill="#2a2a2a" stroke="#2a2a2a" stroke-width="0.1">0.10</text>
<text transform="translate(362.60,216.65) scale(0.94,1)" font-size="4.5" text-anchor="end" fill="#2a2a2a" stroke="#2a2a2a" stroke-width="0.1">0.05</text>
<text transform="translate(362.60,243.90) scale(0.94,1)" font-size="4.5" text-anchor="end" fill="#2a2a2a" stroke="#2a2a2a" stroke-width="0.1">0.00</text>
<text transform="translate(373.30,250.10) scale(0.94,1)" font-size="4.5" text-anchor="middle" fill="#2a2a2a" stroke="#2a2a2a" stroke-width="0.1">2004</text>
<text transform="translate(387.10,250.10) scale(0.94,1)" font-size="4.5" text-anchor="middle" fill="#2a2a2a" stroke="#2a2a2a" stroke-width="0.1">2005</text>
<text transform="translate(400.90,250.10) scale(0.94,1)" font-size="4.5" text-anchor="middle" fill="#2a2a2a" stroke="#2a2a2a" stroke-width="0.1">2006</text>
<text transform="translate(414.70,250.10) scale(0.94,1)" font-size="4.5" text-anchor="middle" fill="#2a2a2a" stroke="#2a2a2a" stroke-width="0.1">2007</text>
<text transform="translate(428.50,250.10) scale(0.94,1)" font-size="4.5" text-anchor="middle" fill="#2a2a2a" stroke="#2a2a2a" stroke-width="0.1">2008</text>
<text transform="translate(442.30,250.10) scale(0.94,1)" font-size="4.5" text-anchor="middle" fill="#2a2a2a" stroke="#2a2a2a" stroke-width="0.1">2009</text>
<text transform="translate(456.10,250.10) scale(0.94,1)" font-size="4.5" text-anchor="middle" fill="#2a2a2a" stroke="#2a2a2a" stroke-width="0.1">2010</text>
<text transform="translate(469.90,250.10) scale(0.94,1)" font-size="4.5" text-anchor="middle" fill="#2a2a2a" stroke="#2a2a2a" stroke-width="0.1">2011</text>
<text transform="translate(483.70,250.10) scale(0.94,1)" font-size="4.5" text-anchor="middle" fill="#2a2a2a" stroke="#2a2a2a" stroke-width="0.1">2012</text>
<text transform="translate(497.50,250.10) scale(0.94,1)" font-size="4.5" text-anchor="middle" fill="#2a2a2a" stroke="#2a2a2a" stroke-width="0.1">2013</text>
<text transform="translate(511.30,250.10) scale(0.94,1)" font-size="4.5" text-anchor="middle" fill="#2a2a2a" stroke="#2a2a2a" stroke-width="0.1">2014</text>
<text transform="translate(443.10,257.50) scale(1.0,1)" font-size="5.4" text-anchor="middle" fill="#2a2a2a" stroke="#2a2a2a" stroke-width="0.14">August</text>
<text transform="translate(350.90,215.05) rotate(-90)" font-size="5.0" textLength="47.95" lengthAdjust="spacingAndGlyphs" fill="#2a2a2a" stroke="#2a2a2a" stroke-width="0.1">Propane (nmol mol<tspan font-size="3.10" dy="-1.80">-1</tspan><tspan dy="1.80">)</tspan></text>
</g>
</svg>
</body></html>
